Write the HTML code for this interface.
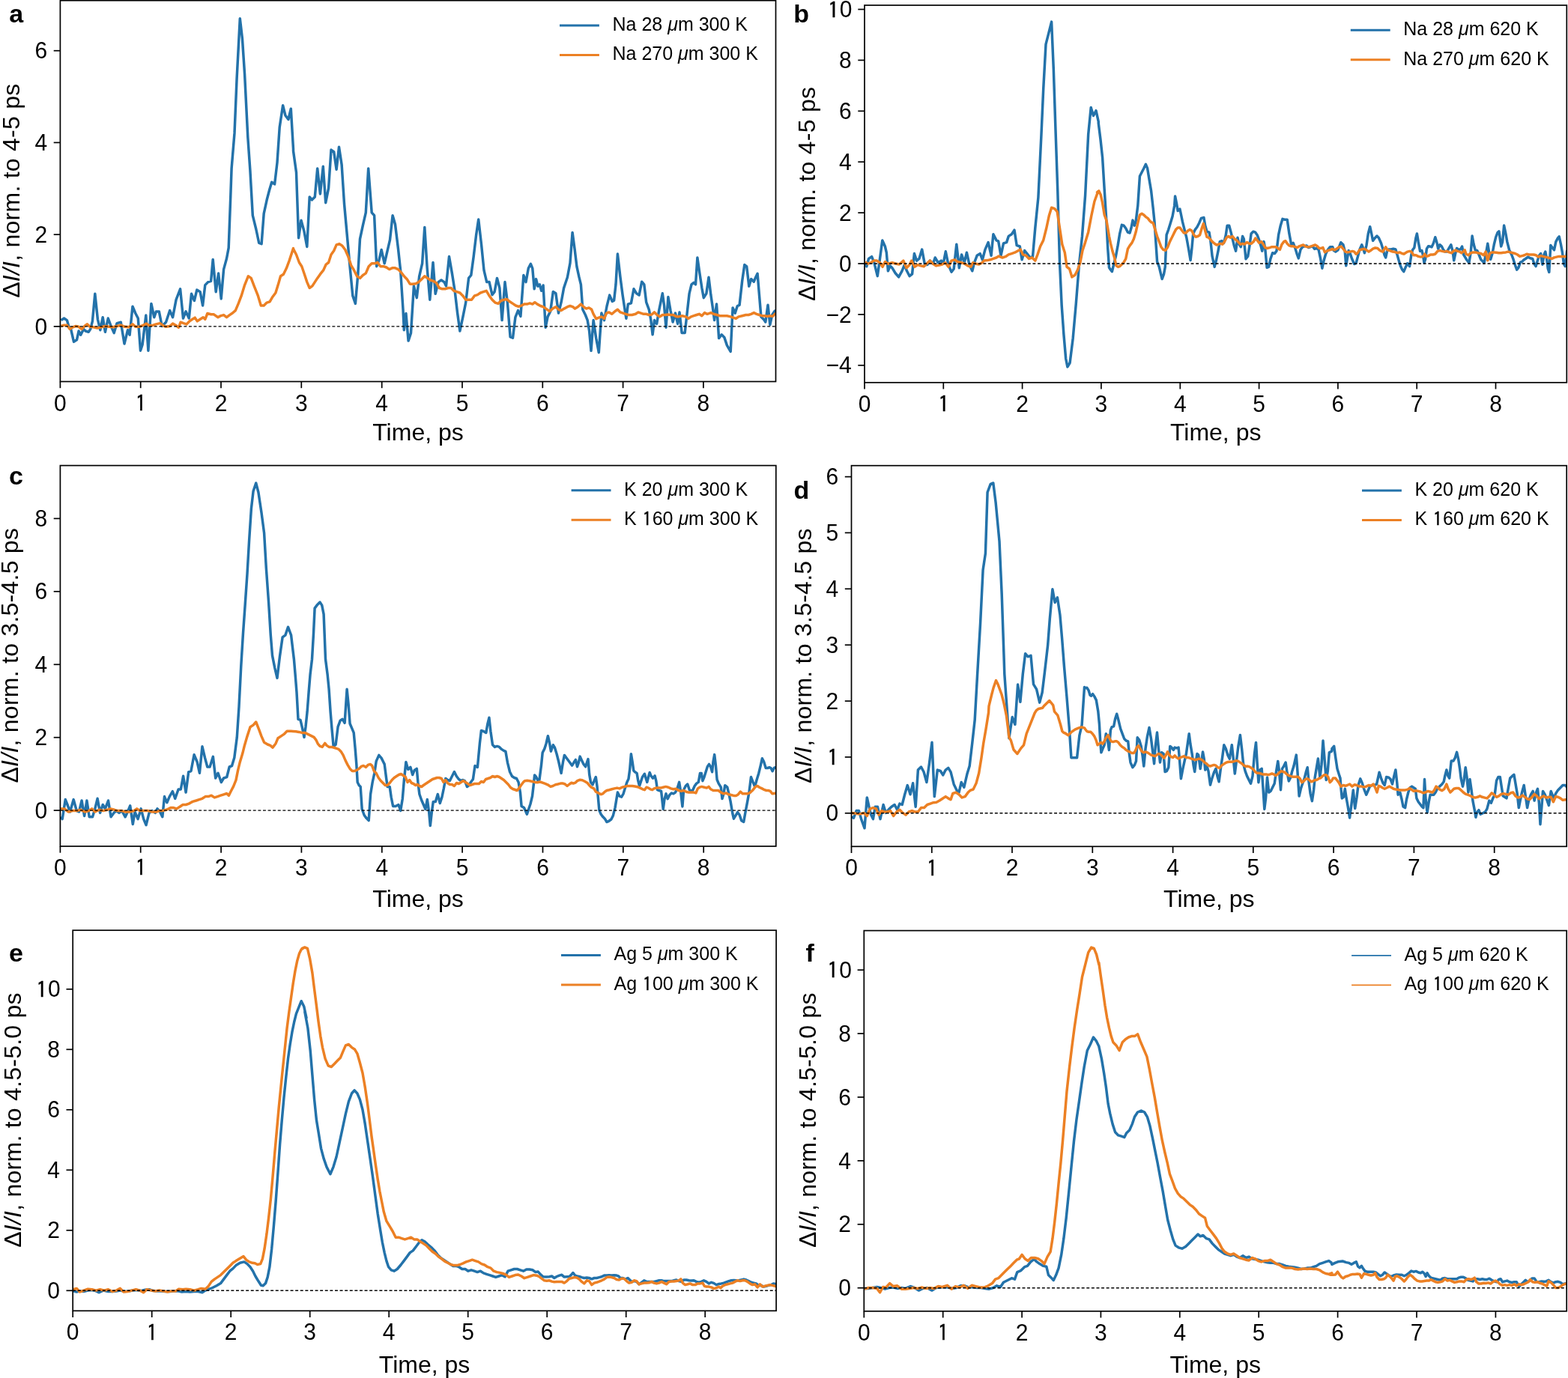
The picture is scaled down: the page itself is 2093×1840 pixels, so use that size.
<!DOCTYPE html>
<html><head><meta charset="utf-8"><title>Figure</title><style>
html,body{margin:0;padding:0;background:#fff;overflow:hidden;}
svg{display:block;font-family:'Liberation Sans', Arial, Helvetica, sans-serif;fill:#000;}
.tk{font-size:30.0px;}
.al{font-size:32px;}
.lg{font-size:25px;}
.pl{font-size:34px;font-weight:bold;}
</style></head><body>
<svg width="2093" height="1840" viewBox="0 0 2093 1840">
<defs><clipPath id="clipa"><rect x="80.4" y="0.7" width="955.1" height="508.8"/></clipPath><clipPath id="clipb"><rect x="1154.0" y="7.0" width="937.3" height="503.8"/></clipPath><clipPath id="clipc"><rect x="80.4" y="621.6" width="955.4" height="508.4"/></clipPath><clipPath id="clipd"><rect x="1136.5" y="621.7" width="954.7" height="508.6"/></clipPath><clipPath id="clipe"><rect x="97.2" y="1242.2" width="938.9" height="508.1"/></clipPath><clipPath id="clipf"><rect x="1153.3" y="1242.6" width="937.9" height="508.2"/></clipPath></defs>
<rect width="2093" height="1840" fill="#fff"/>
<path d="M81.5,427.6 L85.5,425.0 L89.4,427.6 L92.0,436.8 L94.6,439.4 L98.5,456.4 L102.5,453.8 L105.1,442.0 L107.7,447.2 L111.6,439.4 L114.2,442.0 L118.2,443.3 L120.8,439.4 L123.4,428.9 L126.8,392.3 L130.4,426.3 L133.8,440.7 L137.2,423.7 L140.4,443.3 L144.3,425.0 L148.2,435.5 L152.2,444.6 L156.1,431.6 L161.3,430.2 L166.0,459.0 L170.5,440.7 L173.1,447.2 L177.0,409.3 L180.9,418.5 L184.3,425.0 L187.5,468.2 L190.1,460.3 L194.8,421.1 L197.9,468.2 L201.9,405.4 L205.8,423.7 L208.4,415.9 L212.3,415.9 L216.2,435.5 L221.5,430.2 L226.7,414.6 L230.6,423.7 L235.1,400.2 L240.6,385.8 L244.5,425.0 L248.1,415.9 L252.3,425.0 L255.5,392.3 L259.4,401.5 L262.8,387.1 L267.2,389.7 L270.6,408.0 L273.8,380.6 L277.7,376.6 L281.6,375.3 L284.2,346.5 L288.2,389.7 L291.6,364.9 L295.2,398.9 L298.6,359.6 L302.5,345.2 L305.2,330.9 L307.8,261.5 L309.1,224.9 L313.0,177.9 L316.1,104.6 L320.3,24.8 L323.5,52.3 L326.6,99.4 L330.8,183.1 L333.9,227.5 L337.3,287.7 L341.8,306.0 L345.7,324.3 L349.1,325.6 L352.2,285.1 L356.2,266.8 L359.6,253.7 L362.7,243.2 L366.6,245.9 L370.0,217.1 L373.2,170.0 L377.6,140.7 L381.0,154.3 L384.9,159.5 L388.3,145.2 L391.5,198.8 L391.5,201.4 L395.5,230.2 L398.6,317.8 L402.0,294.2 L405.9,308.6 L409.8,329.5 L413.2,262.9 L416.4,266.8 L420.3,262.9 L423.7,224.9 L427.4,258.9 L431.3,222.3 L434.7,270.7 L438.6,251.1 L442.0,200.1 L445.7,202.7 L449.1,226.2 L452.5,196.2 L456.1,219.7 L459.5,272.0 L463.5,316.5 L467.4,359.6 L470.8,394.9 L474.4,405.4 L477.8,366.2 L480.5,319.1 L484.4,300.8 L488.3,283.8 L491.7,224.9 L496.2,283.8 L499.6,287.7 L502.7,355.7 L505.8,347.9 L509.2,333.5 L513.2,351.8 L517.1,334.8 L520.5,320.4 L524.1,287.7 L527.5,299.5 L531.5,332.2 L534.6,360.9 L538.0,413.2 L539.3,440.7 L541.9,418.5 L545.1,455.1 L548.5,444.6 L552.4,381.9 L556.3,397.6 L559.7,368.8 L563.6,351.8 L566.8,303.4 L570.2,358.3 L573.8,400.2 L578.0,350.5 L581.2,392.3 L585.1,376.6 L589.0,374.0 L592.9,376.6 L595.5,381.9 L599.5,342.6 L603.4,364.9 L607.3,389.7 L610.5,417.2 L613.9,442.0 L617.8,423.7 L621.7,404.1 L625.6,371.4 L628.8,367.5 L632.2,342.6 L635.6,313.9 L638.7,292.9 L642.6,326.9 L646.0,360.9 L649.7,376.6 L653.1,376.6 L657.0,393.6 L660.1,389.7 L663.5,371.4 L666.9,384.5 L670.1,427.6 L674.0,376.6 L677.4,404.1 L681.1,449.9 L684.5,451.2 L687.9,423.7 L691.5,414.6 L694.9,422.4 L698.9,367.5 L702.0,376.6 L705.3,358.3 L708.4,352.3 L710.8,358.3 L713.2,385.8 L715.6,372.6 L717.9,382.2 L720.3,379.8 L722.7,388.2 L725.1,381.0 L728.2,437.2 L731.1,422.9 L734.7,415.7 L738.3,389.4 L741.9,391.8 L745.5,418.1 L749.1,403.7 L752.6,384.6 L757.4,370.2 L761.0,351.1 L764.1,310.4 L767.0,331.9 L769.9,355.9 L773.0,370.2 L775.4,379.8 L777.8,413.3 L781.4,420.5 L784.2,427.6 L786.6,442.0 L789.0,468.3 L792.1,427.6 L795.7,451.6 L799.3,470.7 L802.9,418.1 L806.5,427.6 L810.1,408.5 L813.7,394.1 L817.3,402.5 L819.6,401.3 L822.0,379.8 L824.4,339.1 L828.0,370.2 L831.1,394.1 L834.0,413.3 L835.9,425.3 L838.3,406.1 L842.4,404.9 L846.0,385.8 L849.6,391.8 L853.1,394.1 L856.7,376.2 L859.8,379.8 L862.7,403.7 L866.3,413.3 L868.7,426.4 L871.1,446.8 L873.5,427.6 L876.6,432.4 L879.9,413.3 L884.3,391.8 L886.6,408.5 L889.0,437.2 L891.9,396.5 L895.0,414.5 L898.1,430.0 L901.5,418.1 L904.6,432.4 L907.0,416.9 L910.1,444.4 L914.2,444.4 L917.8,412.1 L920.1,391.8 L923.0,379.8 L926.1,377.4 L928.5,379.8 L930.9,343.9 L934.0,365.4 L936.9,384.6 L939.3,397.7 L942.9,391.8 L946.0,370.2 L948.9,394.1 L951.7,413.3 L953.6,427.6 L956.5,406.1 L959.6,451.6 L963.2,446.8 L966.8,450.4 L970.4,461.1 L975.2,469.5 L978.1,410.9 L981.2,418.1 L984.3,408.5 L987.1,407.3 L990.7,375.0 L993.8,353.5 L996.7,355.9 L999.8,382.2 L1002.7,372.6 L1006.3,376.2 L1008.7,370.2 L1011.1,365.4 L1013.5,394.1 L1015.9,422.9 L1019.4,426.4 L1021.8,430.0 L1025.0,407.3 L1027.8,433.6 L1030.7,420.5 L1033.8,415.7 L1035.5,414.5" fill="none" stroke="#2372aa" stroke-width="3.5" stroke-linejoin="round" clip-path="url(#clipa)"/>
<path d="M81.5,435.5 L85.5,434.2 L89.4,434.2 L93.3,439.4 L97.2,436.8 L101.2,435.5 L105.1,436.3 L109.0,439.4 L112.9,435.5 L116.3,432.9 L120.0,436.3 L124.7,436.8 L129.9,438.1 L135.2,436.8 L140.4,435.5 L145.6,436.3 L150.8,436.8 L156.1,435.5 L161.3,434.2 L166.5,436.3 L171.8,436.8 L177.0,432.9 L180.9,436.3 L186.2,436.3 L191.4,434.2 L195.3,432.1 L199.2,434.7 L204.5,434.2 L208.4,432.9 L213.6,431.6 L217.5,434.7 L221.5,436.3 L226.7,435.5 L230.6,432.1 L234.5,434.2 L238.5,437.3 L241.1,430.2 L245.0,431.6 L248.9,432.9 L252.9,428.9 L256.8,426.3 L260.2,424.2 L263.3,428.9 L267.2,426.3 L271.2,423.7 L273.8,426.3 L276.9,418.5 L281.6,419.8 L285.5,419.8 L290.8,423.7 L294.7,421.6 L298.6,420.6 L302.5,423.7 L306.5,420.6 L310.4,418.0 L314.3,414.6 L318.2,405.4 L322.2,394.9 L326.6,380.6 L331.3,368.8 L335.2,371.4 L339.2,381.9 L344.4,394.9 L348.3,408.0 L352.2,408.0 L356.2,404.1 L360.1,402.8 L364.0,396.2 L367.9,391.0 L371.9,377.9 L374.5,368.8 L378.4,366.2 L382.3,358.3 L386.2,347.9 L391.5,331.6 L391.5,332.2 L395.5,340.0 L399.4,350.5 L402.8,355.7 L406.4,366.2 L409.8,376.6 L413.2,384.5 L416.9,381.9 L420.3,376.6 L423.7,371.4 L427.4,366.2 L431.6,360.9 L435.2,353.1 L438.6,350.5 L442.0,340.0 L445.7,334.8 L449.1,326.9 L453.0,325.6 L456.9,328.2 L460.8,333.5 L464.8,342.6 L468.7,354.4 L472.6,360.9 L476.5,368.8 L480.5,371.4 L484.4,367.5 L488.3,364.9 L492.2,355.7 L496.2,351.8 L500.1,351.8 L504.0,350.5 L507.9,355.7 L511.9,355.7 L515.8,357.0 L519.7,359.6 L523.6,357.8 L527.5,357.8 L531.5,359.6 L535.4,363.6 L539.3,368.8 L543.2,372.7 L547.2,379.2 L551.1,379.2 L555.0,378.7 L558.9,376.6 L562.9,372.7 L566.8,368.8 L570.7,371.4 L574.6,374.0 L578.5,375.3 L582.5,377.9 L586.4,384.5 L590.3,385.8 L594.2,385.8 L598.2,384.5 L602.1,384.5 L606.0,388.4 L609.9,389.7 L613.9,391.0 L617.8,394.9 L621.7,400.2 L625.6,400.2 L629.5,400.2 L633.5,394.9 L637.4,393.6 L641.3,391.0 L645.2,389.7 L649.2,388.4 L653.1,394.9 L657.0,400.2 L660.9,404.1 L664.9,405.4 L668.8,401.5 L672.7,400.2 L676.6,399.6 L680.5,402.8 L684.5,405.4 L688.4,408.0 L692.3,409.3 L696.2,408.0 L700.2,405.9 L703.6,406.1 L707.2,404.9 L710.8,406.1 L713.9,403.7 L717.2,406.1 L721.5,408.5 L725.1,409.7 L728.7,412.1 L733.5,415.7 L737.8,412.1 L741.9,409.7 L745.5,413.3 L749.1,414.5 L753.1,412.1 L757.4,409.7 L761.0,408.5 L764.6,409.7 L767.5,412.1 L771.3,409.7 L775.4,406.1 L779.0,409.7 L782.6,412.1 L786.1,410.9 L789.7,413.3 L792.1,419.3 L795.7,425.7 L799.3,424.1 L802.9,422.9 L806.5,425.3 L809.6,418.1 L812.9,416.9 L816.8,419.3 L820.8,415.7 L824.4,413.3 L828.0,416.9 L831.6,418.1 L835.2,419.3 L838.8,420.5 L843.6,420.5 L848.4,419.3 L851.9,416.9 L855.5,418.1 L859.1,419.3 L862.7,419.3 L866.3,420.5 L869.9,420.0 L873.5,416.9 L877.1,420.5 L880.7,422.9 L884.3,420.5 L887.8,420.5 L891.4,420.0 L895.0,420.5 L898.6,420.5 L902.2,422.4 L905.8,422.9 L910.6,421.7 L915.4,422.9 L918.9,425.3 L922.5,422.9 L926.1,421.7 L929.7,420.5 L933.3,419.3 L936.9,421.7 L940.5,417.6 L944.1,419.3 L948.9,417.6 L952.4,419.3 L957.2,420.5 L960.8,421.7 L965.6,421.7 L970.4,421.7 L975.2,422.9 L978.8,424.1 L982.4,425.3 L985.9,422.9 L990.7,421.7 L995.5,420.5 L999.1,420.5 L1002.7,419.3 L1006.3,417.6 L1009.9,419.3 L1013.5,420.5 L1017.1,421.7 L1020.6,421.7 L1024.2,422.4 L1027.8,421.7 L1031.4,422.4 L1035.5,418.1" fill="none" stroke="#ec8024" stroke-width="3.5" stroke-linejoin="round" clip-path="url(#clipa)"/>
<line x1="80.4" x2="1035.5" y1="435.9" y2="435.9" stroke="#000" stroke-width="1.4" stroke-dasharray="3.9 2.7"/>
<rect x="80.4" y="0.7" width="955.1" height="508.8" fill="none" stroke="#000" stroke-width="1.7"/>
<line x1="80.4" x2="80.4" y1="509.5" y2="518.2" stroke="#000" stroke-width="1.7"/>
<text transform="translate(80.4,548.5) scale(1,1.035)" class="tk" text-anchor="middle">0</text>
<line x1="187.7" x2="187.7" y1="509.5" y2="518.2" stroke="#000" stroke-width="1.7"/>
<text transform="translate(187.7,548.5) scale(1,1.035)" class="tk" text-anchor="middle"><tspan font-family="IPAGothic, 'Liberation Sans', sans-serif" stroke="#000" stroke-width="0.35" dx="0.84" dy="1.38">1</tspan><tspan dx="0.84" dy="-1.38">​</tspan></text>
<line x1="295.0" x2="295.0" y1="509.5" y2="518.2" stroke="#000" stroke-width="1.7"/>
<text transform="translate(295.0,548.5) scale(1,1.035)" class="tk" text-anchor="middle">2</text>
<line x1="402.3" x2="402.3" y1="509.5" y2="518.2" stroke="#000" stroke-width="1.7"/>
<text transform="translate(402.3,548.5) scale(1,1.035)" class="tk" text-anchor="middle">3</text>
<line x1="509.7" x2="509.7" y1="509.5" y2="518.2" stroke="#000" stroke-width="1.7"/>
<text transform="translate(509.7,548.5) scale(1,1.035)" class="tk" text-anchor="middle">4</text>
<line x1="617.0" x2="617.0" y1="509.5" y2="518.2" stroke="#000" stroke-width="1.7"/>
<text transform="translate(617.0,548.5) scale(1,1.035)" class="tk" text-anchor="middle">5</text>
<line x1="724.3" x2="724.3" y1="509.5" y2="518.2" stroke="#000" stroke-width="1.7"/>
<text transform="translate(724.3,548.5) scale(1,1.035)" class="tk" text-anchor="middle">6</text>
<line x1="831.6" x2="831.6" y1="509.5" y2="518.2" stroke="#000" stroke-width="1.7"/>
<text transform="translate(831.6,548.5) scale(1,1.035)" class="tk" text-anchor="middle">7</text>
<line x1="938.9" x2="938.9" y1="509.5" y2="518.2" stroke="#000" stroke-width="1.7"/>
<text transform="translate(938.9,548.5) scale(1,1.035)" class="tk" text-anchor="middle">8</text>
<line x1="71.7" x2="80.4" y1="435.9" y2="435.9" stroke="#000" stroke-width="1.7"/>
<text transform="translate(63.1,446.5) scale(1,1.035)" class="tk" text-anchor="end">0</text>
<line x1="71.7" x2="80.4" y1="313.2" y2="313.2" stroke="#000" stroke-width="1.7"/>
<text transform="translate(63.1,323.8) scale(1,1.035)" class="tk" text-anchor="end">2</text>
<line x1="71.7" x2="80.4" y1="190.4" y2="190.4" stroke="#000" stroke-width="1.7"/>
<text transform="translate(63.1,201.0) scale(1,1.035)" class="tk" text-anchor="end">4</text>
<line x1="71.7" x2="80.4" y1="67.7" y2="67.7" stroke="#000" stroke-width="1.7"/>
<text transform="translate(63.1,78.3) scale(1,1.035)" class="tk" text-anchor="end">6</text>
<text x="558.0" y="587.6" class="al" text-anchor="middle">Time, ps</text>
<text transform="translate(25.8,397.8) rotate(-90)" class="al" letter-spacing="0.25">Δ<tspan font-style="italic">I/I</tspan>, norm. to 4-5 ps</text>
<line x1="747.0" x2="799.9" y1="33.9" y2="33.9" stroke="#2372aa" stroke-width="3.0"/>
<text x="817.5" y="40.9" class="lg">Na 28 <tspan font-style="italic">μ</tspan>m 300 K</text>
<line x1="747.0" x2="799.9" y1="73.4" y2="73.4" stroke="#ec8024" stroke-width="3.0"/>
<text x="817.5" y="80.4" class="lg">Na 270 <tspan font-style="italic">μ</tspan>m 300 K</text>
<text x="12.2" y="30.0" class="pl">a</text>
<path d="M1154.9,350.8 L1156.8,355.8 L1159.5,345.4 L1163.6,342.7 L1166.9,350.8 L1171.3,368.6 L1174.5,345.4 L1177.8,320.9 L1181.4,329.0 L1183.3,337.2 L1185.4,361.8 L1188.2,354.9 L1190.9,357.7 L1195.0,364.5 L1199.6,369.9 L1204.0,361.8 L1207.3,353.6 L1210.5,361.8 L1214.1,368.6 L1217.6,365.8 L1220.4,338.6 L1223.6,348.1 L1226.9,345.4 L1230.7,333.1 L1234.5,353.6 L1237.8,353.6 L1241.3,348.1 L1245.4,352.2 L1248.2,344.0 L1252.3,350.8 L1256.3,348.1 L1259.1,352.2 L1262.3,335.8 L1265.9,353.6 L1270.0,363.1 L1273.2,359.0 L1276.8,326.3 L1280.3,357.7 L1283.6,339.9 L1287.2,350.8 L1290.4,337.2 L1294.0,353.6 L1297.8,361.8 L1300.5,350.8 L1304.1,341.3 L1308.2,338.6 L1311.4,346.8 L1315.0,333.1 L1319.1,323.6 L1323.1,341.3 L1325.9,312.7 L1330.0,320.9 L1332.7,322.2 L1336.0,341.3 L1339.5,324.9 L1343.6,323.6 L1346.3,315.4 L1350.4,312.7 L1354.0,307.2 L1357.2,327.7 L1361.3,329.0 L1364.1,346.8 L1367.6,334.5 L1370.9,338.6 L1375.0,344.0 L1378.5,342.7 L1381.8,304.5 L1385.9,263.6 L1390.0,179.1 L1392.7,119.1 L1396.0,59.1 L1399.5,45.4 L1403.6,29.1 L1406.3,91.8 L1409.0,173.6 L1411.8,255.4 L1414.5,350.8 L1417.2,408.1 L1419.9,446.3 L1422.7,479.0 L1424.9,489.9 L1428.1,484.5 L1432.2,451.7 L1436.3,405.4 L1440.4,353.6 L1444.5,315.4 L1448.6,260.9 L1452.7,179.1 L1456.2,143.6 L1459.5,154.5 L1463.0,147.7 L1466.3,162.7 L1466.2,164.1 L1468.9,185.5 L1471.6,210.4 L1474.2,253.1 L1476.9,295.9 L1478.7,331.5 L1480.5,357.3 L1482.3,360.0 L1484.4,362.7 L1486.7,352.9 L1489.4,342.2 L1492.1,327.9 L1494.7,311.9 L1497.4,300.3 L1500.1,301.2 L1502.7,304.8 L1505.4,310.1 L1508.1,311.0 L1509.9,304.8 L1512.0,294.1 L1514.3,301.2 L1516.1,295.9 L1518.8,274.5 L1521.4,235.3 L1524.1,230.0 L1526.8,224.7 L1529.4,219.3 L1531.6,224.7 L1533.9,238.9 L1536.6,254.9 L1539.2,278.1 L1541.0,295.9 L1542.8,322.6 L1544.6,349.3 L1547.3,356.4 L1549.4,365.3 L1551.2,372.5 L1553.5,366.2 L1555.3,356.4 L1557.1,313.7 L1559.7,306.6 L1562.4,297.7 L1565.1,288.8 L1567.7,274.5 L1568.6,262.0 L1570.4,271.0 L1572.2,281.6 L1574.9,279.0 L1576.6,287.0 L1578.4,295.9 L1581.1,306.6 L1583.8,317.3 L1586.4,331.5 L1589.1,347.5 L1590.9,331.5 L1592.7,311.9 L1595.3,306.6 L1598.0,303.0 L1600.7,297.7 L1603.4,291.4 L1606.9,290.5 L1608.7,301.2 L1611.0,309.2 L1614.0,310.1 L1615.8,320.8 L1618.1,342.2 L1621.2,356.4 L1623.5,347.5 L1626.0,335.1 L1628.3,322.6 L1631.0,321.7 L1633.6,324.4 L1636.3,313.7 L1638.1,301.2 L1640.7,301.2 L1643.1,310.1 L1645.2,319.0 L1647.3,327.9 L1649.6,335.1 L1652.0,317.3 L1654.1,326.2 L1656.2,329.7 L1658.6,315.5 L1660.3,319.0 L1663.0,345.7 L1665.7,342.2 L1668.0,327.9 L1670.1,311.9 L1672.8,309.2 L1675.5,310.1 L1678.1,313.7 L1680.5,319.9 L1682.9,327.9 L1684.7,335.1 L1687.0,322.6 L1688.8,332.4 L1691.1,357.3 L1693.6,356.4 L1695.9,345.7 L1698.6,337.7 L1701.3,338.6 L1704.0,335.1 L1706.6,313.7 L1709.3,301.2 L1712.0,292.3 L1714.6,293.2 L1718.2,293.2 L1720.9,311.9 L1723.6,326.2 L1726.2,324.4 L1728.9,331.5 L1731.0,338.6 L1733.3,344.9 L1736.0,333.3 L1738.7,329.7 L1741.4,328.8 L1744.0,327.9 L1746.7,330.6 L1749.4,329.7 L1752.0,328.8 L1754.7,332.4 L1757.4,331.5 L1760.1,333.3 L1762.7,345.7 L1764.9,358.2 L1767.2,347.5 L1769.8,338.6 L1772.5,333.3 L1775.5,329.7 L1778.8,329.7 L1780.4,334.6 L1782.8,336.1 L1785.9,333.8 L1789.8,323.7 L1792.9,326.8 L1795.2,335.4 L1796.8,354.8 L1798.3,345.5 L1800.2,334.6 L1802.2,338.5 L1804.6,345.5 L1807.7,352.5 L1810.0,351.7 L1812.3,343.1 L1814.7,333.8 L1817.8,326.8 L1819.3,330.7 L1821.4,337.7 L1824.0,327.6 L1826.3,312.0 L1828.7,302.7 L1830.7,312.0 L1832.6,321.4 L1834.9,318.2 L1838.0,315.1 L1840.3,317.5 L1843.5,324.5 L1846.3,333.8 L1848.1,340.8 L1849.7,343.9 L1851.5,335.4 L1853.6,333.0 L1856.7,333.0 L1859.8,332.2 L1862.9,333.0 L1865.2,340.8 L1867.6,349.4 L1869.6,355.6 L1871.8,360.2 L1873.8,362.6 L1876.1,357.1 L1878.5,351.7 L1881.6,355.6 L1883.9,340.0 L1885.5,333.8 L1887.8,330.7 L1889.8,318.2 L1891.4,312.0 L1893.2,322.9 L1895.6,335.4 L1897.9,334.6 L1899.5,340.8 L1901.0,350.9 L1902.6,346.2 L1904.4,332.2 L1906.5,328.8 L1908.8,329.1 L1911.1,329.9 L1913.5,324.5 L1915.8,316.7 L1918.1,324.5 L1919.7,332.2 L1922.0,326.8 L1924.4,329.1 L1926.7,333.8 L1929.0,336.1 L1931.4,336.1 L1933.7,332.2 L1936.8,326.8 L1939.1,335.4 L1940.7,347.8 L1942.7,338.5 L1944.6,331.5 L1947.7,333.8 L1950.0,332.2 L1951.6,329.1 L1953.6,340.0 L1955.5,343.1 L1957.8,347.0 L1960.9,350.9 L1963.2,336.9 L1965.1,315.1 L1967.1,326.0 L1969.2,333.8 L1971.8,334.6 L1974.1,340.0 L1976.5,346.2 L1978.8,348.6 L1981.1,350.9 L1983.5,338.5 L1985.8,325.2 L1988.1,340.0 L1989.7,346.2 L1992.0,338.5 L1994.4,326.0 L1996.7,316.7 L1999.0,310.5 L2000.9,308.9 L2003.7,329.1 L2005.6,322.9 L2007.6,301.1 L2009.9,312.0 L2011.8,322.9 L2014.6,333.8 L2017.7,340.0 L2020.0,346.2 L2022.4,354.0 L2024.7,360.2 L2027.0,357.1 L2029.4,350.1 L2031.7,349.4 L2034.0,347.0 L2036.4,345.5 L2039.5,343.1 L2042.6,344.7 L2045.7,345.5 L2048.0,352.5 L2050.1,355.6 L2051.9,349.4 L2054.3,341.6 L2056.6,338.5 L2058.9,353.2 L2061.0,340.0 L2062.8,336.1 L2064.7,346.2 L2066.2,358.7 L2067.8,363.4 L2069.8,327.6 L2072.2,330.7 L2074.5,333.8 L2076.8,322.9 L2079.2,318.2 L2081.2,315.9 L2083.4,326.0 L2085.4,336.9 L2087.4,352.5 L2089.3,355.6 L2091.6,335.4 L2093.9,333.8" fill="none" stroke="#2372aa" stroke-width="3.5" stroke-linejoin="round" clip-path="url(#clipb)"/>
<path d="M1154.9,349.5 L1158.2,352.2 L1162.3,350.8 L1166.4,348.1 L1170.5,348.1 L1174.5,350.8 L1178.1,356.3 L1181.4,349.5 L1185.4,352.2 L1190.9,350.8 L1196.4,352.2 L1200.4,353.0 L1205.9,348.1 L1210.0,357.7 L1214.1,353.6 L1216.8,348.1 L1220.9,356.3 L1225.0,353.6 L1229.1,354.9 L1233.2,355.8 L1236.7,352.2 L1241.3,348.1 L1245.4,352.2 L1249.5,354.9 L1253.6,354.1 L1257.7,353.0 L1261.8,350.8 L1265.9,356.3 L1270.0,348.1 L1274.1,346.8 L1278.2,349.5 L1283.6,350.8 L1287.7,352.2 L1291.8,354.9 L1295.9,356.3 L1298.6,350.8 L1302.7,352.2 L1306.8,353.0 L1310.9,350.8 L1313.6,348.1 L1317.7,347.6 L1321.8,346.8 L1325.9,345.4 L1330.0,344.0 L1333.2,342.1 L1338.1,344.0 L1342.2,342.7 L1346.3,339.9 L1350.4,338.6 L1354.5,337.2 L1358.6,335.0 L1362.1,333.1 L1365.4,339.9 L1369.5,341.3 L1373.6,345.4 L1377.7,344.0 L1381.8,348.1 L1385.0,339.9 L1388.6,329.0 L1392.7,320.9 L1396.8,304.5 L1400.3,288.1 L1403.6,277.2 L1407.7,278.6 L1411.2,282.7 L1414.5,304.5 L1417.8,326.3 L1421.3,337.2 L1424.0,356.3 L1427.6,359.0 L1430.9,369.9 L1434.9,367.2 L1438.5,360.4 L1441.8,350.8 L1445.0,334.5 L1448.6,323.6 L1452.7,309.9 L1456.8,288.1 L1460.9,269.0 L1465.8,255.4 L1464.5,256.7 L1466.8,254.9 L1469.3,260.3 L1471.6,271.0 L1474.2,287.0 L1476.9,294.1 L1478.7,304.8 L1480.5,315.5 L1482.3,324.4 L1484.9,335.1 L1487.6,344.0 L1489.9,354.6 L1492.4,356.4 L1494.7,355.5 L1497.4,352.9 L1500.1,350.2 L1502.7,345.7 L1505.4,332.4 L1508.1,327.9 L1510.8,324.4 L1513.4,319.0 L1516.1,310.1 L1518.8,297.7 L1521.4,287.0 L1524.1,285.2 L1526.8,287.0 L1529.4,289.6 L1532.1,291.4 L1534.8,295.0 L1536.9,296.8 L1539.2,297.7 L1541.9,306.6 L1544.6,315.5 L1547.3,322.6 L1549.9,329.7 L1552.6,333.3 L1555.8,334.2 L1558.8,329.7 L1561.5,322.6 L1564.2,317.3 L1566.8,311.9 L1569.5,306.6 L1572.2,303.9 L1574.9,303.9 L1577.5,307.5 L1580.2,311.0 L1582.9,311.0 L1585.5,308.3 L1588.2,306.6 L1590.9,308.3 L1593.6,313.7 L1596.2,316.4 L1598.9,315.5 L1601.6,313.7 L1604.2,304.8 L1606.4,298.6 L1608.7,308.3 L1611.0,316.4 L1613.5,317.3 L1615.8,319.9 L1618.1,322.6 L1621.2,325.3 L1623.8,327.0 L1626.5,326.2 L1629.2,325.3 L1631.8,326.2 L1634.5,322.6 L1637.2,317.3 L1639.9,315.5 L1642.5,317.3 L1645.2,315.5 L1647.9,319.0 L1650.5,320.8 L1653.2,323.5 L1655.9,326.2 L1658.6,325.3 L1661.2,326.2 L1664.4,323.5 L1667.5,325.3 L1670.1,325.3 L1673.3,322.6 L1675.8,318.1 L1678.1,320.8 L1680.8,324.4 L1683.5,322.6 L1685.8,325.3 L1688.8,330.6 L1691.5,331.5 L1695.1,330.6 L1697.7,329.7 L1700.4,329.7 L1703.1,329.7 L1705.7,331.5 L1708.4,333.3 L1711.1,326.2 L1713.8,322.6 L1715.9,321.7 L1718.2,325.3 L1720.9,327.9 L1723.6,328.8 L1726.2,328.8 L1728.9,329.7 L1731.6,330.6 L1734.2,328.8 L1736.9,327.9 L1739.6,327.0 L1742.2,328.8 L1744.9,329.7 L1747.6,329.7 L1750.3,328.8 L1752.9,327.9 L1755.6,327.0 L1758.3,328.8 L1760.9,331.5 L1763.6,331.5 L1765.9,330.6 L1768.4,336.8 L1771.3,335.1 L1773.8,334.2 L1776.6,333.3 L1778.8,332.4 L1781.2,333.8 L1784.3,332.2 L1787.4,329.9 L1790.2,329.1 L1792.9,332.2 L1796.0,336.1 L1799.1,336.9 L1802.2,336.1 L1805.3,335.4 L1807.7,336.1 L1810.0,339.2 L1812.3,337.7 L1814.7,333.8 L1817.8,333.0 L1820.9,332.2 L1824.0,333.8 L1827.1,336.1 L1829.5,334.6 L1832.6,332.2 L1835.7,331.0 L1838.8,331.5 L1841.1,333.8 L1843.5,335.4 L1845.8,336.1 L1848.1,332.2 L1849.7,329.9 L1852.0,333.8 L1855.1,334.6 L1859.0,336.1 L1862.1,336.6 L1865.2,337.7 L1868.3,336.9 L1871.5,338.5 L1873.8,339.2 L1876.1,337.7 L1878.9,336.1 L1881.6,335.4 L1883.9,336.1 L1887.0,340.8 L1890.1,340.8 L1893.2,342.4 L1896.4,343.1 L1899.5,342.4 L1901.8,339.2 L1904.1,342.4 L1906.5,341.6 L1909.6,340.0 L1912.7,340.0 L1915.8,339.2 L1918.9,335.4 L1922.0,334.6 L1925.1,335.4 L1928.2,336.1 L1931.4,335.4 L1934.5,336.9 L1937.6,337.7 L1939.9,335.4 L1943.0,334.1 L1945.4,335.4 L1948.5,336.1 L1950.8,337.7 L1953.1,336.1 L1955.2,333.8 L1957.0,339.2 L1960.1,340.8 L1963.2,337.7 L1966.4,336.9 L1969.5,336.9 L1972.6,337.7 L1975.7,338.2 L1978.0,339.2 L1980.4,340.8 L1983.2,336.1 L1985.8,347.8 L1988.5,338.5 L1991.3,336.9 L1994.4,336.9 L1997.5,337.2 L2000.6,337.7 L2003.7,337.7 L2006.8,337.2 L2009.9,336.9 L2013.0,336.1 L2016.1,336.9 L2019.3,337.7 L2022.4,338.5 L2025.5,340.0 L2028.6,342.4 L2031.7,341.6 L2034.8,340.8 L2037.9,339.2 L2041.0,340.0 L2044.1,340.0 L2047.3,340.0 L2050.4,340.8 L2053.5,343.1 L2056.6,341.6 L2059.7,342.4 L2062.8,343.1 L2065.9,343.9 L2069.0,344.7 L2071.4,345.5 L2074.5,343.9 L2077.6,343.1 L2080.7,342.4 L2083.8,342.4 L2086.9,342.4 L2090.0,342.4 L2093.9,342.4" fill="none" stroke="#ec8024" stroke-width="3.5" stroke-linejoin="round" clip-path="url(#clipb)"/>
<line x1="1154.0" x2="2091.3" y1="352.0" y2="352.0" stroke="#000" stroke-width="1.4" stroke-dasharray="3.9 2.7"/>
<rect x="1154.0" y="7.0" width="937.3" height="503.8" fill="none" stroke="#000" stroke-width="1.7"/>
<line x1="1154.0" x2="1154.0" y1="510.8" y2="519.5" stroke="#000" stroke-width="1.7"/>
<text transform="translate(1154.0,549.8) scale(1,1.035)" class="tk" text-anchor="middle">0</text>
<line x1="1259.3" x2="1259.3" y1="510.8" y2="519.5" stroke="#000" stroke-width="1.7"/>
<text transform="translate(1259.3,549.8) scale(1,1.035)" class="tk" text-anchor="middle"><tspan font-family="IPAGothic, 'Liberation Sans', sans-serif" stroke="#000" stroke-width="0.35" dx="0.84" dy="1.38">1</tspan><tspan dx="0.84" dy="-1.38">​</tspan></text>
<line x1="1364.6" x2="1364.6" y1="510.8" y2="519.5" stroke="#000" stroke-width="1.7"/>
<text transform="translate(1364.6,549.8) scale(1,1.035)" class="tk" text-anchor="middle">2</text>
<line x1="1469.9" x2="1469.9" y1="510.8" y2="519.5" stroke="#000" stroke-width="1.7"/>
<text transform="translate(1469.9,549.8) scale(1,1.035)" class="tk" text-anchor="middle">3</text>
<line x1="1575.3" x2="1575.3" y1="510.8" y2="519.5" stroke="#000" stroke-width="1.7"/>
<text transform="translate(1575.3,549.8) scale(1,1.035)" class="tk" text-anchor="middle">4</text>
<line x1="1680.6" x2="1680.6" y1="510.8" y2="519.5" stroke="#000" stroke-width="1.7"/>
<text transform="translate(1680.6,549.8) scale(1,1.035)" class="tk" text-anchor="middle">5</text>
<line x1="1785.9" x2="1785.9" y1="510.8" y2="519.5" stroke="#000" stroke-width="1.7"/>
<text transform="translate(1785.9,549.8) scale(1,1.035)" class="tk" text-anchor="middle">6</text>
<line x1="1891.2" x2="1891.2" y1="510.8" y2="519.5" stroke="#000" stroke-width="1.7"/>
<text transform="translate(1891.2,549.8) scale(1,1.035)" class="tk" text-anchor="middle">7</text>
<line x1="1996.5" x2="1996.5" y1="510.8" y2="519.5" stroke="#000" stroke-width="1.7"/>
<text transform="translate(1996.5,549.8) scale(1,1.035)" class="tk" text-anchor="middle">8</text>
<line x1="1145.3" x2="1154.0" y1="487.8" y2="487.8" stroke="#000" stroke-width="1.7"/>
<text transform="translate(1136.7,498.4) scale(1,1.035)" class="tk" text-anchor="end">−4</text>
<line x1="1145.3" x2="1154.0" y1="419.9" y2="419.9" stroke="#000" stroke-width="1.7"/>
<text transform="translate(1136.7,430.5) scale(1,1.035)" class="tk" text-anchor="end">−2</text>
<line x1="1145.3" x2="1154.0" y1="352.0" y2="352.0" stroke="#000" stroke-width="1.7"/>
<text transform="translate(1136.7,362.6) scale(1,1.035)" class="tk" text-anchor="end">0</text>
<line x1="1145.3" x2="1154.0" y1="284.1" y2="284.1" stroke="#000" stroke-width="1.7"/>
<text transform="translate(1136.7,294.7) scale(1,1.035)" class="tk" text-anchor="end">2</text>
<line x1="1145.3" x2="1154.0" y1="216.2" y2="216.2" stroke="#000" stroke-width="1.7"/>
<text transform="translate(1136.7,226.8) scale(1,1.035)" class="tk" text-anchor="end">4</text>
<line x1="1145.3" x2="1154.0" y1="148.3" y2="148.3" stroke="#000" stroke-width="1.7"/>
<text transform="translate(1136.7,158.9) scale(1,1.035)" class="tk" text-anchor="end">6</text>
<line x1="1145.3" x2="1154.0" y1="80.4" y2="80.4" stroke="#000" stroke-width="1.7"/>
<text transform="translate(1136.7,91.0) scale(1,1.035)" class="tk" text-anchor="end">8</text>
<line x1="1145.3" x2="1154.0" y1="12.5" y2="12.5" stroke="#000" stroke-width="1.7"/>
<text transform="translate(1136.7,23.1) scale(1,1.035)" class="tk" text-anchor="end"><tspan font-family="IPAGothic, 'Liberation Sans', sans-serif" stroke="#000" stroke-width="0.35" dx="0.84" dy="1.38">1</tspan><tspan dx="0.84" dy="-1.38">0</tspan></text>
<text x="1622.7" y="587.7" class="al" text-anchor="middle">Time, ps</text>
<text transform="translate(1088.1,402.1) rotate(-90)" class="al" letter-spacing="0.25">Δ<tspan font-style="italic">I/I</tspan>, norm. to 4-5 ps</text>
<line x1="1802.8" x2="1855.7" y1="40.2" y2="40.2" stroke="#2372aa" stroke-width="3.0"/>
<text x="1873.3" y="47.2" class="lg">Na 28 <tspan font-style="italic">μ</tspan>m 620 K</text>
<line x1="1802.8" x2="1855.7" y1="79.7" y2="79.7" stroke="#ec8024" stroke-width="3.0"/>
<text x="1873.3" y="86.7" class="lg">Na 270 <tspan font-style="italic">μ</tspan>m 620 K</text>
<text x="1059.3" y="30.0" class="pl">b</text>
<path d="M81.0,1090.8 L83.2,1093.6 L87.3,1067.6 L90.0,1074.5 L93.5,1084.0 L98.2,1067.6 L102.3,1082.6 L105.5,1084.0 L109.1,1069.0 L112.6,1089.5 L115.9,1069.0 L119.2,1090.8 L123.5,1090.8 L126.8,1079.9 L130.1,1066.3 L133.6,1085.4 L137.2,1074.5 L140.4,1079.9 L144.5,1069.0 L148.1,1090.8 L151.9,1085.4 L155.4,1082.6 L159.0,1085.4 L162.8,1082.6 L167.2,1090.8 L170.4,1084.0 L173.7,1075.8 L177.3,1100.4 L180.0,1084.0 L184.1,1093.6 L188.2,1079.9 L191.7,1093.6 L195.0,1101.7 L199.1,1085.4 L203.2,1082.6 L207.2,1085.4 L210.0,1079.9 L213.5,1084.0 L216.8,1090.8 L219.5,1063.6 L222.8,1071.7 L226.3,1063.6 L230.4,1056.7 L233.7,1066.3 L238.1,1054.0 L241.3,1054.0 L244.6,1036.3 L248.1,1058.1 L251.7,1030.8 L255.0,1029.5 L259.1,1007.7 L263.1,1017.2 L266.4,1032.2 L270.0,996.8 L273.5,1011.7 L276.8,1024.0 L280.1,1024.0 L284.4,1010.4 L287.7,1039.0 L291.0,1032.2 L295.3,1044.5 L298.6,1039.0 L302.7,1037.7 L306.2,1024.0 L309.5,1022.7 L312.8,1011.7 L316.3,984.5 L319.0,943.6 L321.8,889.0 L324.5,845.4 L327.2,807.2 L330.0,766.3 L332.7,720.0 L335.4,679.1 L338.1,655.9 L341.7,645.0 L344.9,657.3 L349.0,684.5 L352.6,711.8 L355.3,758.2 L358.6,804.5 L361.3,848.1 L363.5,875.4 L366.8,891.8 L370.0,905.4 L373.6,875.4 L377.1,850.9 L380.9,848.1 L384.5,837.2 L388.6,848.1 L390.0,860.2 L392.4,880.2 L394.4,904.2 L396.0,924.3 L398.0,960.3 L401.0,961.3 L403.6,972.4 L406.0,984.4 L408.0,970.4 L410.1,950.3 L412.1,924.3 L414.1,900.2 L416.5,880.2 L418.5,846.1 L420.1,812.1 L423.1,808.1 L427.1,804.1 L429.7,808.1 L432.1,820.1 L434.5,880.2 L437.1,900.2 L439.1,920.3 L441.1,950.3 L443.1,974.4 L445.1,996.4 L448.1,994.4 L451.1,970.4 L454.1,962.3 L457.1,960.3 L460.1,965.3 L463.1,920.3 L465.1,940.3 L467.1,966.3 L469.7,972.4 L472.2,978.4 L474.2,1000.4 L475.8,1020.4 L477.2,1044.5 L479.2,1048.5 L481.2,1050.5 L483.2,1080.5 L486.2,1088.5 L489.2,1092.6 L492.2,1095.6 L494.6,1060.5 L497.2,1044.5 L499.8,1032.5 L502.2,1016.4 L505.8,1008.4 L509.2,1012.4 L513.2,1020.4 L515.8,1040.5 L517.2,1050.5 L520.2,1050.5 L522.2,1064.5 L524.6,1076.5 L528.2,1076.5 L531.9,1074.5 L534.7,1082.5 L537.3,1066.5 L539.3,1042.5 L541.9,1017.4 L544.7,1027.4 L547.9,1024.4 L550.7,1034.5 L553.3,1028.4 L556.3,1026.4 L557.9,1044.5 L559.9,1060.5 L562.7,1068.5 L565.3,1074.5 L567.9,1080.5 L570.3,1067.5 L572.7,1084.5 L574.3,1102.6 L576.3,1084.5 L578.3,1070.5 L581.3,1070.5 L584.3,1060.5 L587.3,1072.5 L589.9,1064.5 L592.4,1052.5 L594.8,1039.5 L597.4,1041.5 L600.4,1042.5 L603.4,1036.5 L606.4,1030.5 L609.4,1036.5 L612.4,1040.5 L615.4,1042.5 L618.0,1041.5 L620.4,1042.5 L623.4,1050.5 L626.0,1048.5 L628.4,1044.5 L631.4,1040.5 L634.0,1022.4 L637.4,1024.4 L640.4,992.4 L642.4,975.4 L645.4,976.4 L648.8,978.4 L650.9,966.3 L652.9,958.3 L654.9,976.4 L657.5,994.4 L660.5,997.4 L663.5,996.4 L666.5,997.4 L669.5,1000.4 L672.5,1002.4 L674.9,1003.4 L677.5,1018.4 L680.5,1030.5 L683.5,1036.5 L686.5,1038.5 L689.5,1039.5 L692.1,1044.5 L694.5,1058.5 L696.1,1076.5 L699.5,1078.5 L701.1,1082.1 L703.4,1087.2 L705.4,1081.2 L708.0,1073.5 L710.5,1063.2 L712.3,1047.8 L713.6,1035.0 L715.7,1037.5 L717.7,1041.8 L720.0,1041.0 L722.5,1022.1 L724.2,1005.0 L726.8,999.9 L729.0,993.0 L731.4,982.7 L733.7,993.0 L735.4,1003.3 L738.3,994.7 L740.5,998.2 L743.1,1006.7 L745.7,1017.0 L749.1,1032.4 L751.6,1017.0 L753.4,1008.4 L755.9,1011.8 L758.5,1015.3 L761.1,1018.7 L763.6,1022.1 L766.2,1017.8 L768.4,1014.4 L770.5,1023.8 L772.2,1018.7 L774.2,1010.1 L776.5,1015.3 L779.0,1020.4 L781.6,1023.8 L783.8,1017.0 L785.0,1013.6 L786.7,1034.1 L788.5,1044.4 L791.0,1047.8 L793.1,1042.7 L795.3,1037.5 L797.0,1049.5 L798.2,1063.2 L799.9,1082.1 L802.2,1087.2 L804.7,1090.6 L807.3,1093.2 L809.9,1097.5 L812.4,1096.6 L815.9,1094.0 L818.4,1088.9 L821.0,1078.6 L822.7,1068.4 L824.4,1058.1 L827.0,1063.2 L829.6,1064.1 L832.1,1059.8 L834.7,1051.2 L836.9,1044.4 L839.0,1040.1 L840.7,1027.3 L842.4,1006.7 L844.1,1017.0 L845.8,1029.0 L847.5,1030.7 L850.1,1032.4 L851.8,1042.7 L853.5,1049.5 L855.2,1044.4 L857.5,1037.5 L860.4,1033.3 L862.1,1039.2 L863.8,1044.4 L865.5,1037.5 L867.2,1031.5 L868.9,1035.8 L871.5,1039.2 L874.1,1035.8 L875.8,1042.7 L877.5,1054.7 L879.7,1055.5 L882.6,1056.4 L885.2,1080.3 L886.9,1067.5 L889.0,1059.8 L891.2,1066.6 L893.8,1061.5 L896.3,1058.9 L898.9,1059.8 L901.5,1058.1 L904.0,1052.9 L906.6,1044.4 L908.8,1058.1 L910.9,1076.9 L912.6,1054.7 L915.2,1049.5 L917.7,1047.0 L920.3,1054.7 L922.5,1056.4 L924.9,1054.7 L927.2,1049.5 L929.7,1046.1 L932.3,1044.4 L934.5,1032.4 L936.2,1032.4 L937.9,1042.7 L940.0,1037.5 L942.1,1030.7 L944.3,1023.8 L946.5,1020.4 L948.6,1023.8 L950.6,1030.7 L952.0,1017.0 L953.7,1007.6 L955.4,1022.1 L957.1,1041.0 L959.2,1046.1 L962.3,1051.2 L964.0,1066.6 L966.0,1059.8 L967.7,1048.7 L970.8,1051.2 L972.9,1059.8 L975.1,1070.1 L977.7,1085.5 L979.4,1093.2 L982.0,1088.9 L984.5,1084.6 L987.1,1088.0 L989.7,1095.8 L992.7,1097.5 L994.8,1085.5 L997.4,1071.8 L999.9,1058.1 L1002.5,1037.5 L1005.1,1044.4 L1007.6,1050.4 L1010.2,1041.0 L1012.8,1032.4 L1015.3,1022.1 L1017.4,1012.7 L1019.6,1017.0 L1022.2,1025.5 L1024.8,1025.5 L1027.0,1024.7 L1029.0,1025.5 L1031.1,1029.8 L1033.3,1025.5 L1037.6,1023.8" fill="none" stroke="#2372aa" stroke-width="3.5" stroke-linejoin="round" clip-path="url(#clipc)"/>
<path d="M81.0,1079.9 L85.9,1079.9 L91.4,1084.0 L96.8,1082.6 L102.3,1082.6 L107.7,1081.3 L113.2,1084.0 L118.6,1082.6 L122.7,1079.9 L126.8,1084.0 L132.3,1081.3 L137.7,1082.6 L143.2,1081.3 L147.3,1079.9 L152.7,1081.3 L156.8,1082.6 L162.3,1082.6 L167.7,1084.0 L173.2,1084.0 L178.6,1082.6 L182.7,1079.9 L186.8,1082.6 L192.3,1082.6 L197.7,1082.6 L203.2,1084.0 L208.6,1084.0 L212.7,1082.6 L216.8,1082.6 L222.2,1081.3 L227.7,1078.6 L231.8,1078.6 L235.9,1079.9 L240.0,1077.2 L244.1,1074.5 L248.1,1074.5 L252.2,1073.1 L257.1,1070.4 L261.8,1069.0 L265.9,1067.6 L270.0,1066.3 L274.1,1063.6 L278.1,1063.6 L282.2,1062.2 L286.3,1064.9 L290.4,1063.6 L294.5,1062.2 L298.6,1060.8 L302.7,1059.5 L305.4,1062.2 L308.1,1056.7 L311.7,1049.9 L315.0,1041.7 L317.7,1028.1 L320.4,1017.2 L323.7,1006.3 L326.4,995.4 L330.0,983.1 L334.0,970.8 L338.1,968.1 L341.7,964.0 L345.5,973.6 L349.0,983.1 L352.6,991.3 L357.2,994.0 L360.8,995.4 L364.0,998.1 L368.1,992.7 L370.9,985.8 L374.9,983.1 L379.0,980.4 L383.1,976.3 L388.6,976.3 L391.0,976.4 L395.0,976.8 L399.0,977.4 L403.0,978.4 L407.0,978.4 L411.1,980.4 L415.1,982.4 L419.1,984.4 L422.1,988.4 L424.5,993.4 L427.1,996.4 L430.1,997.4 L433.7,992.4 L436.1,995.4 L439.1,997.4 L442.1,997.4 L445.1,998.0 L449.1,999.4 L452.1,1000.4 L455.1,1003.4 L458.1,1008.4 L461.1,1015.4 L464.1,1021.4 L467.1,1026.4 L470.2,1029.4 L473.2,1029.4 L476.2,1028.4 L479.2,1026.4 L482.2,1023.4 L485.2,1022.4 L488.2,1024.4 L491.2,1021.4 L494.2,1020.4 L496.6,1022.4 L499.2,1029.4 L502.2,1032.5 L505.2,1038.5 L508.2,1042.5 L511.2,1045.5 L514.2,1048.5 L517.2,1048.5 L520.2,1045.5 L523.2,1041.5 L526.2,1038.5 L529.2,1036.5 L532.3,1034.5 L535.3,1033.5 L538.3,1035.5 L541.3,1037.5 L543.9,1044.5 L546.7,1041.5 L549.3,1045.5 L551.9,1046.5 L554.7,1048.5 L557.3,1047.5 L559.9,1049.5 L562.7,1050.5 L565.3,1048.5 L568.3,1046.5 L571.3,1044.5 L574.3,1042.5 L577.3,1040.5 L580.3,1039.5 L583.3,1038.5 L586.3,1038.5 L589.3,1039.5 L592.0,1044.5 L594.8,1041.5 L597.4,1045.5 L600.4,1047.5 L603.4,1047.5 L606.4,1049.5 L609.4,1045.5 L612.4,1046.5 L615.4,1044.5 L618.4,1042.5 L621.4,1044.5 L624.4,1046.5 L627.4,1048.5 L630.4,1047.5 L633.4,1046.5 L636.4,1046.5 L639.4,1046.5 L642.4,1043.5 L645.4,1044.5 L648.4,1040.5 L651.5,1039.5 L654.5,1038.5 L657.5,1036.5 L660.5,1037.5 L663.5,1036.5 L666.5,1037.5 L669.5,1039.5 L672.5,1041.5 L675.5,1044.5 L678.5,1047.5 L681.5,1051.5 L684.5,1053.5 L687.5,1054.5 L690.1,1055.5 L692.9,1052.5 L695.5,1048.5 L698.5,1044.5 L700.3,1042.7 L703.7,1042.3 L707.1,1042.7 L710.5,1043.5 L714.0,1044.4 L717.4,1044.7 L720.8,1044.0 L724.2,1045.2 L727.7,1046.4 L731.1,1047.8 L734.9,1050.4 L737.9,1049.5 L741.4,1047.8 L744.8,1047.0 L748.2,1046.1 L751.6,1046.1 L754.2,1047.0 L757.1,1049.5 L760.2,1047.0 L762.8,1045.2 L765.3,1046.1 L767.9,1045.2 L770.5,1042.7 L773.9,1041.3 L777.3,1041.8 L780.8,1043.5 L783.8,1045.2 L786.7,1048.7 L789.3,1051.2 L792.7,1052.9 L795.3,1057.2 L798.7,1058.9 L802.2,1060.7 L804.7,1059.8 L807.3,1057.2 L809.9,1055.5 L813.3,1054.7 L816.7,1053.8 L820.1,1052.9 L823.6,1052.1 L827.0,1052.9 L830.4,1051.2 L833.8,1050.4 L837.3,1049.5 L840.7,1049.5 L844.1,1049.5 L847.5,1050.0 L851.0,1050.7 L854.4,1052.1 L857.8,1053.8 L860.4,1054.7 L862.9,1051.2 L865.5,1052.1 L868.1,1053.8 L870.7,1054.7 L873.2,1052.9 L875.8,1052.1 L878.4,1052.1 L881.8,1052.1 L885.2,1051.2 L888.6,1050.4 L892.1,1051.2 L895.5,1052.9 L898.9,1053.8 L902.3,1053.3 L905.8,1055.5 L909.2,1056.4 L912.6,1055.5 L916.0,1057.2 L919.5,1058.1 L922.9,1058.1 L926.3,1058.1 L928.9,1058.9 L931.4,1052.9 L934.0,1051.2 L936.6,1050.4 L940.0,1051.2 L943.4,1052.1 L946.0,1050.4 L948.6,1053.8 L952.0,1055.5 L955.4,1055.5 L958.8,1055.5 L962.3,1058.1 L965.7,1059.8 L969.1,1058.9 L972.5,1060.7 L976.0,1061.5 L979.4,1062.4 L982.8,1062.4 L985.4,1060.7 L988.3,1057.2 L991.4,1059.8 L994.8,1059.8 L998.2,1059.8 L1001.6,1058.1 L1005.1,1054.7 L1008.5,1050.4 L1011.1,1049.5 L1013.6,1051.2 L1017.1,1052.9 L1020.5,1054.7 L1023.0,1055.5 L1025.6,1055.5 L1028.2,1056.4 L1030.8,1059.8 L1037.6,1058.9" fill="none" stroke="#ec8024" stroke-width="3.5" stroke-linejoin="round" clip-path="url(#clipc)"/>
<line x1="80.4" x2="1035.8" y1="1082.1" y2="1082.1" stroke="#000" stroke-width="1.4" stroke-dasharray="3.9 2.7"/>
<rect x="80.4" y="621.6" width="955.4" height="508.4" fill="none" stroke="#000" stroke-width="1.7"/>
<line x1="80.4" x2="80.4" y1="1130.0" y2="1138.7" stroke="#000" stroke-width="1.7"/>
<text transform="translate(80.4,1169.0) scale(1,1.035)" class="tk" text-anchor="middle">0</text>
<line x1="187.7" x2="187.7" y1="1130.0" y2="1138.7" stroke="#000" stroke-width="1.7"/>
<text transform="translate(187.7,1169.0) scale(1,1.035)" class="tk" text-anchor="middle"><tspan font-family="IPAGothic, 'Liberation Sans', sans-serif" stroke="#000" stroke-width="0.35" dx="0.84" dy="1.38">1</tspan><tspan dx="0.84" dy="-1.38">​</tspan></text>
<line x1="295.1" x2="295.1" y1="1130.0" y2="1138.7" stroke="#000" stroke-width="1.7"/>
<text transform="translate(295.1,1169.0) scale(1,1.035)" class="tk" text-anchor="middle">2</text>
<line x1="402.4" x2="402.4" y1="1130.0" y2="1138.7" stroke="#000" stroke-width="1.7"/>
<text transform="translate(402.4,1169.0) scale(1,1.035)" class="tk" text-anchor="middle">3</text>
<line x1="509.8" x2="509.8" y1="1130.0" y2="1138.7" stroke="#000" stroke-width="1.7"/>
<text transform="translate(509.8,1169.0) scale(1,1.035)" class="tk" text-anchor="middle">4</text>
<line x1="617.1" x2="617.1" y1="1130.0" y2="1138.7" stroke="#000" stroke-width="1.7"/>
<text transform="translate(617.1,1169.0) scale(1,1.035)" class="tk" text-anchor="middle">5</text>
<line x1="724.5" x2="724.5" y1="1130.0" y2="1138.7" stroke="#000" stroke-width="1.7"/>
<text transform="translate(724.5,1169.0) scale(1,1.035)" class="tk" text-anchor="middle">6</text>
<line x1="831.8" x2="831.8" y1="1130.0" y2="1138.7" stroke="#000" stroke-width="1.7"/>
<text transform="translate(831.8,1169.0) scale(1,1.035)" class="tk" text-anchor="middle">7</text>
<line x1="939.2" x2="939.2" y1="1130.0" y2="1138.7" stroke="#000" stroke-width="1.7"/>
<text transform="translate(939.2,1169.0) scale(1,1.035)" class="tk" text-anchor="middle">8</text>
<line x1="71.7" x2="80.4" y1="1082.1" y2="1082.1" stroke="#000" stroke-width="1.7"/>
<text transform="translate(63.1,1092.7) scale(1,1.035)" class="tk" text-anchor="end">0</text>
<line x1="71.7" x2="80.4" y1="984.7" y2="984.7" stroke="#000" stroke-width="1.7"/>
<text transform="translate(63.1,995.3) scale(1,1.035)" class="tk" text-anchor="end">2</text>
<line x1="71.7" x2="80.4" y1="887.3" y2="887.3" stroke="#000" stroke-width="1.7"/>
<text transform="translate(63.1,897.9) scale(1,1.035)" class="tk" text-anchor="end">4</text>
<line x1="71.7" x2="80.4" y1="789.8" y2="789.8" stroke="#000" stroke-width="1.7"/>
<text transform="translate(63.1,800.4) scale(1,1.035)" class="tk" text-anchor="end">6</text>
<line x1="71.7" x2="80.4" y1="692.4" y2="692.4" stroke="#000" stroke-width="1.7"/>
<text transform="translate(63.1,703.0) scale(1,1.035)" class="tk" text-anchor="end">8</text>
<text x="558.1" y="1210.8" class="al" text-anchor="middle">Time, ps</text>
<text transform="translate(23.6,1045.5) rotate(-90)" class="al" letter-spacing="0.25">Δ<tspan font-style="italic">I/I</tspan>, norm. to 3.5-4.5 ps</text>
<line x1="762.6" x2="815.5" y1="654.8" y2="654.8" stroke="#2372aa" stroke-width="3.0"/>
<text x="833.1" y="661.8" class="lg">K 20 <tspan font-style="italic">μ</tspan>m 300 K</text>
<line x1="762.6" x2="815.5" y1="694.3" y2="694.3" stroke="#ec8024" stroke-width="3.0"/>
<text x="833.1" y="701.3" class="lg">K <tspan font-family="IPAGothic, 'Liberation Sans', sans-serif" stroke="#000" stroke-width="0.35" dx="0.70" dy="1.00">1</tspan><tspan dx="0.70" dy="-1.00">60 </tspan><tspan font-style="italic">μ</tspan>m 300 K</text>
<text x="11.9" y="646.9" class="pl">c</text>
<path d="M1136.8,1090.8 L1139.5,1092.2 L1143.1,1082.6 L1146.4,1082.6 L1149.6,1093.6 L1154.0,1105.8 L1157.3,1064.9 L1160.0,1077.2 L1162.7,1088.1 L1165.4,1093.6 L1168.2,1077.2 L1171.4,1077.2 L1175.0,1093.6 L1179.1,1074.5 L1182.4,1085.4 L1185.9,1081.3 L1190.0,1077.2 L1194.1,1074.5 L1197.6,1081.3 L1200.9,1073.1 L1204.2,1074.5 L1207.7,1060.8 L1211.3,1048.6 L1215.1,1060.8 L1218.6,1045.8 L1222.2,1077.2 L1225.4,1028.1 L1229.5,1024.0 L1233.1,1030.8 L1236.9,1044.5 L1240.4,1019.9 L1244.0,991.3 L1247.3,1063.6 L1251.3,1028.1 L1255.4,1029.5 L1258.7,1034.9 L1262.2,1028.1 L1265.8,1025.4 L1269.1,1030.8 L1273.2,1047.2 L1277.2,1055.4 L1280.0,1058.1 L1283.2,1044.5 L1286.8,1051.3 L1290.9,1033.6 L1294.2,1022.7 L1297.7,992.7 L1301.2,961.3 L1304.5,902.7 L1308.6,831.8 L1312.1,760.9 L1315.4,739.1 L1318.1,657.3 L1322.2,646.4 L1325.8,645.0 L1329.1,670.9 L1334.0,722.7 L1337.2,793.6 L1340.0,875.4 L1340.8,900.0 L1346.9,985.7 L1351.2,957.5 L1354.9,967.3 L1358.6,914.1 L1361.9,937.3 L1365.3,900.0 L1368.6,872.7 L1372.1,876.8 L1376.0,875.4 L1379.5,913.6 L1383.6,920.4 L1387.7,938.1 L1391.2,924.5 L1394.5,897.2 L1398.6,861.8 L1401.3,826.3 L1404.9,786.8 L1408.1,804.5 L1411.4,797.7 L1414.9,820.9 L1417.7,853.6 L1420.4,889.0 L1423.9,929.9 L1427.2,970.8 L1429.9,1011.7 L1434.0,1011.7 L1437.6,1011.7 L1440.9,981.8 L1444.1,968.1 L1447.5,917.4 L1447.7,919.0 L1450.8,918.3 L1453.0,921.6 L1455.0,928.2 L1456.6,929.1 L1458.6,926.6 L1460.8,929.9 L1463.3,934.9 L1465.8,949.9 L1467.4,966.5 L1468.6,988.1 L1469.9,1004.8 L1471.9,999.8 L1474.1,994.8 L1476.3,979.8 L1478.3,986.5 L1480.4,1001.4 L1482.4,974.8 L1484.1,970.7 L1486.6,969.8 L1488.6,959.8 L1490.7,953.2 L1492.9,961.5 L1495.7,973.2 L1498.2,979.8 L1500.7,986.5 L1503.2,989.0 L1505.7,989.8 L1507.4,1006.4 L1509.0,1018.1 L1511.9,1024.7 L1514.5,1021.4 L1516.5,1016.4 L1518.2,984.8 L1520.7,988.1 L1523.2,996.4 L1525.2,1009.7 L1526.8,1023.1 L1529.0,999.8 L1531.5,983.1 L1534.0,971.5 L1536.5,986.5 L1539.0,1006.4 L1540.6,1019.7 L1542.3,996.4 L1544.5,978.1 L1546.5,999.8 L1548.5,1018.1 L1550.6,1004.8 L1553.1,1006.4 L1555.1,1030.5 L1557.3,1029.7 L1559.8,1024.7 L1561.8,996.4 L1563.9,998.1 L1566.4,1001.4 L1568.1,998.1 L1570.6,998.9 L1573.1,998.1 L1574.4,1013.1 L1576.4,1039.7 L1578.9,1026.4 L1581.1,1016.4 L1583.4,1006.4 L1585.5,991.4 L1587.2,979.8 L1588.9,993.1 L1591.4,1008.1 L1593.0,1021.4 L1594.7,1030.5 L1596.4,1016.4 L1598.0,1006.4 L1599.7,1008.1 L1602.2,1026.4 L1603.8,1016.4 L1605.5,1003.9 L1607.2,1013.1 L1608.8,1028.0 L1611.0,1023.1 L1613.0,1029.7 L1615.5,1048.0 L1617.7,1039.7 L1620.5,1031.4 L1623.0,1026.4 L1625.0,1036.4 L1627.1,1043.8 L1629.6,1024.7 L1631.6,1011.4 L1633.8,994.8 L1636.3,999.8 L1638.8,1008.1 L1641.3,1013.1 L1644.3,994.8 L1646.3,1013.1 L1648.3,1033.0 L1650.4,1016.4 L1652.9,996.4 L1655.4,981.5 L1657.6,999.8 L1659.6,1019.7 L1662.1,1029.7 L1664.6,1036.4 L1667.1,1041.4 L1669.5,1046.3 L1672.0,1036.4 L1674.5,1006.4 L1676.5,991.4 L1678.2,1019.7 L1679.9,1044.7 L1682.0,1028.0 L1684.2,1026.4 L1685.9,1051.3 L1687.8,1080.4 L1689.5,1066.3 L1691.5,1038.0 L1693.7,1058.0 L1696.2,1056.3 L1698.7,1051.3 L1701.2,1046.3 L1703.6,1029.7 L1705.8,1016.4 L1707.5,1029.7 L1709.5,1054.7 L1711.5,1026.4 L1713.6,1023.1 L1716.1,1018.1 L1717.8,1029.7 L1720.3,1043.0 L1722.8,1038.0 L1724.8,1029.7 L1726.9,1023.1 L1730.3,1008.1 L1731.9,1029.7 L1734.1,1063.0 L1736.4,1053.0 L1738.6,1046.3 L1741.1,1039.7 L1743.6,1029.7 L1745.2,1024.7 L1746.9,1043.0 L1749.1,1059.6 L1751.4,1069.6 L1753.6,1054.7 L1755.2,1038.0 L1757.7,1023.1 L1759.4,1013.1 L1761.9,1038.0 L1764.0,1021.4 L1766.0,989.0 L1768.0,1013.1 L1770.2,1041.4 L1772.3,1029.7 L1774.3,1004.8 L1777.7,1003.1 L1777.9,999.6 L1780.7,996.4 L1782.6,1010.6 L1785.0,1026.4 L1787.4,1034.3 L1789.0,1039.1 L1790.2,1054.9 L1791.3,1065.9 L1793.4,1064.3 L1795.3,1053.3 L1797.2,1065.9 L1799.2,1077.0 L1801.6,1092.0 L1804.0,1073.8 L1806.3,1054.9 L1808.7,1079.4 L1811.1,1064.3 L1813.0,1048.5 L1815.8,1039.9 L1818.2,1045.4 L1820.9,1054.1 L1823.7,1061.2 L1826.1,1055.7 L1828.5,1050.1 L1831.6,1048.5 L1834.8,1048.5 L1837.6,1047.0 L1841.1,1031.2 L1843.5,1039.1 L1845.9,1045.4 L1848.2,1048.5 L1850.6,1037.5 L1853.8,1038.3 L1856.1,1040.6 L1858.5,1047.0 L1860.9,1035.9 L1862.9,1028.0 L1864.8,1045.4 L1866.1,1061.2 L1868.8,1058.0 L1871.1,1067.5 L1873.0,1077.0 L1875.6,1078.6 L1877.5,1067.5 L1879.8,1058.0 L1882.2,1051.7 L1884.6,1050.1 L1886.9,1051.7 L1889.3,1053.3 L1890.9,1065.9 L1893.3,1070.7 L1895.6,1073.8 L1898.0,1077.0 L1899.9,1078.6 L1901.5,1040.6 L1903.1,1067.5 L1905.1,1084.9 L1907.2,1070.7 L1909.1,1061.2 L1911.4,1061.2 L1913.8,1061.2 L1916.2,1058.0 L1918.5,1053.3 L1921.7,1050.1 L1924.9,1047.0 L1927.2,1043.8 L1928.8,1035.9 L1930.9,1028.0 L1932.8,1035.9 L1934.7,1039.1 L1937.2,1016.1 L1939.9,1016.1 L1942.2,1012.2 L1944.6,1004.3 L1946.7,1013.8 L1948.6,1026.4 L1950.1,1039.1 L1952.5,1050.1 L1954.1,1042.2 L1956.2,1024.8 L1958.0,1037.5 L1959.9,1058.0 L1962.0,1040.6 L1964.1,1054.9 L1965.9,1069.1 L1968.3,1081.7 L1969.9,1091.2 L1971.5,1084.9 L1973.9,1081.7 L1976.2,1087.3 L1979.4,1085.7 L1982.5,1084.1 L1984.9,1080.1 L1987.8,1069.1 L1990.4,1072.2 L1992.8,1065.9 L1995.2,1061.2 L1997.6,1042.2 L1999.9,1037.5 L2002.3,1037.5 L2004.2,1050.1 L2006.2,1062.8 L2008.6,1064.3 L2011.0,1065.9 L2013.4,1051.7 L2015.7,1039.1 L2018.9,1035.9 L2020.9,1034.3 L2022.8,1045.4 L2025.2,1059.6 L2027.3,1078.6 L2029.5,1067.5 L2032.0,1056.4 L2034.2,1048.5 L2036.3,1062.8 L2038.6,1078.6 L2040.5,1069.1 L2043.4,1061.2 L2046.2,1056.4 L2048.1,1069.1 L2050.5,1058.0 L2052.5,1053.3 L2054.4,1072.2 L2056.0,1100.7 L2057.9,1077.0 L2059.5,1056.4 L2062.3,1061.2 L2065.2,1069.1 L2067.4,1075.4 L2070.2,1056.4 L2072.1,1061.2 L2074.2,1065.9 L2076.6,1059.6 L2079.7,1054.9 L2082.9,1051.7 L2086.0,1048.5 L2089.2,1048.5 L2092.4,1051.7" fill="none" stroke="#2372aa" stroke-width="3.5" stroke-linejoin="round" clip-path="url(#clipd)"/>
<path d="M1136.8,1085.4 L1140.9,1085.9 L1145.0,1086.7 L1149.1,1086.7 L1153.2,1085.4 L1157.3,1089.5 L1161.4,1079.9 L1165.4,1078.6 L1169.5,1079.9 L1173.1,1088.1 L1176.9,1082.6 L1180.4,1084.0 L1184.5,1084.0 L1188.6,1082.6 L1192.7,1089.5 L1196.8,1084.0 L1200.9,1081.3 L1205.0,1085.4 L1209.1,1088.1 L1213.2,1084.0 L1217.3,1082.6 L1221.3,1084.0 L1225.4,1084.0 L1229.5,1078.6 L1233.6,1078.6 L1237.7,1074.5 L1241.8,1073.1 L1245.9,1071.7 L1250.0,1071.2 L1254.1,1069.0 L1258.2,1066.3 L1262.2,1063.6 L1266.3,1066.3 L1269.1,1067.6 L1271.8,1059.5 L1275.9,1058.1 L1280.0,1060.8 L1284.1,1064.9 L1288.2,1063.6 L1292.2,1058.1 L1295.0,1055.4 L1299.1,1054.0 L1303.1,1045.8 L1306.7,1032.2 L1310.0,1011.7 L1312.7,992.7 L1316.0,973.6 L1319.5,951.8 L1320.0,942.8 L1323.7,927.5 L1326.1,918.4 L1329.5,908.6 L1332.2,914.1 L1337.1,927.5 L1340.2,939.8 L1343.3,955.1 L1345.7,973.4 L1346.9,984.5 L1349.4,988.7 L1353.0,1001.0 L1357.9,1006.5 L1362.8,999.1 L1366.5,994.9 L1370.2,979.6 L1375.1,967.3 L1381.2,952.0 L1383.6,948.3 L1386.1,946.5 L1391.6,945.3 L1393.4,942.8 L1400.8,935.5 L1405.7,941.6 L1407.5,950.2 L1411.8,955.1 L1415.5,967.3 L1417.9,976.5 L1420.0,978.3 L1421.8,979.0 L1425.9,981.8 L1429.9,977.7 L1434.9,974.1 L1439.5,972.2 L1443.6,970.8 L1447.7,972.2 L1448.3,973.2 L1450.8,976.5 L1453.3,977.3 L1455.8,977.3 L1458.3,979.8 L1460.8,983.1 L1463.0,988.1 L1465.0,994.8 L1467.4,993.1 L1469.6,991.4 L1471.9,993.1 L1474.1,989.8 L1476.6,984.8 L1479.1,981.5 L1481.3,986.5 L1483.2,989.8 L1485.7,990.6 L1488.2,989.8 L1490.7,989.8 L1492.9,991.4 L1495.2,994.8 L1497.9,997.3 L1500.7,998.9 L1503.2,1001.4 L1505.7,1003.1 L1508.2,1003.9 L1510.7,1005.6 L1513.2,1005.6 L1515.2,1003.1 L1517.3,998.1 L1519.5,995.6 L1521.5,998.9 L1524.0,1003.1 L1526.5,1004.8 L1529.0,1003.9 L1531.5,1004.8 L1534.0,1006.4 L1536.5,1008.1 L1539.0,1008.9 L1541.5,1009.7 L1544.0,1008.1 L1546.5,1006.4 L1549.0,1007.3 L1551.4,1009.7 L1553.9,1012.2 L1556.4,1008.1 L1558.4,1003.9 L1560.6,1008.1 L1563.1,1010.6 L1565.6,1011.4 L1568.1,1008.9 L1570.6,1011.4 L1573.1,1013.1 L1575.6,1011.4 L1578.1,1010.6 L1580.6,1009.7 L1583.1,1011.4 L1585.5,1011.4 L1588.0,1012.2 L1590.5,1013.1 L1593.0,1013.9 L1595.5,1014.7 L1598.0,1013.9 L1600.5,1013.1 L1603.0,1013.9 L1605.5,1015.6 L1608.0,1018.1 L1610.5,1019.7 L1613.0,1022.2 L1615.5,1023.1 L1618.0,1022.2 L1620.5,1021.4 L1623.0,1022.2 L1625.5,1024.7 L1628.0,1025.5 L1630.5,1022.2 L1633.0,1020.6 L1635.5,1018.9 L1637.9,1017.7 L1640.4,1017.2 L1642.9,1017.2 L1645.4,1017.2 L1647.9,1016.4 L1650.4,1015.6 L1652.9,1016.4 L1655.4,1018.1 L1657.9,1019.7 L1660.4,1022.2 L1662.9,1023.4 L1665.4,1023.1 L1667.9,1023.9 L1670.4,1025.5 L1672.9,1027.2 L1675.4,1030.5 L1677.9,1032.2 L1680.4,1032.2 L1682.9,1033.0 L1685.4,1033.9 L1687.8,1033.9 L1690.3,1033.9 L1692.8,1034.7 L1695.3,1033.9 L1697.8,1033.0 L1700.3,1033.9 L1702.8,1035.5 L1705.3,1033.9 L1707.8,1031.4 L1710.3,1029.7 L1712.8,1030.5 L1715.3,1031.4 L1717.8,1033.9 L1720.3,1035.5 L1722.8,1036.4 L1725.3,1037.2 L1727.8,1037.2 L1730.3,1037.2 L1732.8,1037.2 L1735.3,1039.7 L1737.7,1044.7 L1740.2,1043.0 L1742.7,1040.5 L1745.2,1039.7 L1747.7,1041.4 L1750.2,1043.8 L1752.7,1043.0 L1755.2,1041.4 L1757.7,1041.4 L1760.2,1039.7 L1762.7,1038.9 L1765.2,1036.4 L1767.7,1034.7 L1770.2,1034.7 L1772.7,1037.2 L1775.2,1044.7 L1777.7,1042.2 L1779.5,1039.1 L1782.6,1039.1 L1785.0,1042.2 L1787.4,1045.4 L1789.8,1050.1 L1792.9,1048.5 L1796.1,1049.3 L1798.4,1048.5 L1801.6,1047.0 L1804.8,1050.1 L1807.9,1047.8 L1811.1,1048.5 L1814.2,1050.1 L1817.4,1050.1 L1820.6,1050.9 L1823.7,1050.1 L1826.9,1048.5 L1830.0,1049.3 L1833.2,1047.0 L1835.6,1051.7 L1838.0,1058.0 L1840.3,1049.3 L1842.7,1050.1 L1845.1,1051.7 L1848.2,1053.3 L1851.4,1051.7 L1854.5,1050.1 L1857.7,1051.7 L1860.1,1053.3 L1863.2,1054.1 L1866.4,1054.5 L1869.6,1054.9 L1872.7,1054.9 L1875.9,1054.9 L1879.0,1054.1 L1881.4,1052.5 L1883.8,1054.1 L1886.9,1056.4 L1890.1,1055.7 L1893.3,1056.4 L1896.4,1057.2 L1899.6,1058.8 L1902.7,1058.0 L1905.9,1056.4 L1909.1,1057.2 L1912.2,1058.0 L1914.6,1054.9 L1917.0,1050.1 L1919.3,1051.7 L1921.7,1054.1 L1924.9,1055.7 L1928.0,1053.3 L1930.9,1047.0 L1933.1,1053.3 L1935.9,1058.0 L1938.3,1055.7 L1940.7,1053.3 L1943.8,1052.5 L1947.0,1052.5 L1950.1,1054.9 L1953.3,1058.0 L1956.5,1060.4 L1959.6,1061.2 L1962.8,1062.8 L1965.9,1064.3 L1969.1,1065.1 L1972.3,1064.3 L1975.4,1062.8 L1978.6,1064.3 L1981.8,1065.1 L1984.9,1065.9 L1988.1,1062.8 L1991.2,1058.8 L1994.4,1061.2 L1997.6,1064.3 L2000.7,1062.8 L2003.9,1060.4 L2007.0,1059.6 L2010.2,1060.4 L2013.4,1061.2 L2016.5,1058.8 L2019.7,1058.0 L2022.8,1062.8 L2026.0,1065.1 L2029.2,1064.3 L2032.3,1062.0 L2035.5,1064.3 L2038.6,1066.7 L2041.8,1067.5 L2045.0,1064.3 L2048.1,1060.4 L2051.3,1062.8 L2054.4,1066.7 L2057.6,1064.3 L2060.8,1062.8 L2063.9,1065.1 L2067.1,1064.3 L2070.2,1064.3 L2073.4,1070.7 L2076.6,1063.6 L2079.7,1064.3 L2082.9,1065.9 L2086.0,1068.3 L2092.4,1067.5" fill="none" stroke="#ec8024" stroke-width="3.5" stroke-linejoin="round" clip-path="url(#clipd)"/>
<line x1="1136.5" x2="2091.2" y1="1085.8" y2="1085.8" stroke="#000" stroke-width="1.4" stroke-dasharray="3.9 2.7"/>
<rect x="1136.5" y="621.7" width="954.7" height="508.6" fill="none" stroke="#000" stroke-width="1.7"/>
<line x1="1136.5" x2="1136.5" y1="1130.3" y2="1139.0" stroke="#000" stroke-width="1.7"/>
<text transform="translate(1136.5,1169.3) scale(1,1.035)" class="tk" text-anchor="middle">0</text>
<line x1="1243.8" x2="1243.8" y1="1130.3" y2="1139.0" stroke="#000" stroke-width="1.7"/>
<text transform="translate(1243.8,1169.3) scale(1,1.035)" class="tk" text-anchor="middle"><tspan font-family="IPAGothic, 'Liberation Sans', sans-serif" stroke="#000" stroke-width="0.35" dx="0.84" dy="1.38">1</tspan><tspan dx="0.84" dy="-1.38">​</tspan></text>
<line x1="1351.0" x2="1351.0" y1="1130.3" y2="1139.0" stroke="#000" stroke-width="1.7"/>
<text transform="translate(1351.0,1169.3) scale(1,1.035)" class="tk" text-anchor="middle">2</text>
<line x1="1458.3" x2="1458.3" y1="1130.3" y2="1139.0" stroke="#000" stroke-width="1.7"/>
<text transform="translate(1458.3,1169.3) scale(1,1.035)" class="tk" text-anchor="middle">3</text>
<line x1="1565.6" x2="1565.6" y1="1130.3" y2="1139.0" stroke="#000" stroke-width="1.7"/>
<text transform="translate(1565.6,1169.3) scale(1,1.035)" class="tk" text-anchor="middle">4</text>
<line x1="1672.8" x2="1672.8" y1="1130.3" y2="1139.0" stroke="#000" stroke-width="1.7"/>
<text transform="translate(1672.8,1169.3) scale(1,1.035)" class="tk" text-anchor="middle">5</text>
<line x1="1780.1" x2="1780.1" y1="1130.3" y2="1139.0" stroke="#000" stroke-width="1.7"/>
<text transform="translate(1780.1,1169.3) scale(1,1.035)" class="tk" text-anchor="middle">6</text>
<line x1="1887.4" x2="1887.4" y1="1130.3" y2="1139.0" stroke="#000" stroke-width="1.7"/>
<text transform="translate(1887.4,1169.3) scale(1,1.035)" class="tk" text-anchor="middle">7</text>
<line x1="1994.7" x2="1994.7" y1="1130.3" y2="1139.0" stroke="#000" stroke-width="1.7"/>
<text transform="translate(1994.7,1169.3) scale(1,1.035)" class="tk" text-anchor="middle">8</text>
<line x1="1127.8" x2="1136.5" y1="1085.8" y2="1085.8" stroke="#000" stroke-width="1.7"/>
<text transform="translate(1119.2,1096.4) scale(1,1.035)" class="tk" text-anchor="end">0</text>
<line x1="1127.8" x2="1136.5" y1="1010.9" y2="1010.9" stroke="#000" stroke-width="1.7"/>
<text transform="translate(1119.2,1021.5) scale(1,1.035)" class="tk" text-anchor="end"><tspan font-family="IPAGothic, 'Liberation Sans', sans-serif" stroke="#000" stroke-width="0.35" dx="0.84" dy="1.38">1</tspan><tspan dx="0.84" dy="-1.38">​</tspan></text>
<line x1="1127.8" x2="1136.5" y1="936.1" y2="936.1" stroke="#000" stroke-width="1.7"/>
<text transform="translate(1119.2,946.7) scale(1,1.035)" class="tk" text-anchor="end">2</text>
<line x1="1127.8" x2="1136.5" y1="861.2" y2="861.2" stroke="#000" stroke-width="1.7"/>
<text transform="translate(1119.2,871.8) scale(1,1.035)" class="tk" text-anchor="end">3</text>
<line x1="1127.8" x2="1136.5" y1="786.3" y2="786.3" stroke="#000" stroke-width="1.7"/>
<text transform="translate(1119.2,796.9) scale(1,1.035)" class="tk" text-anchor="end">4</text>
<line x1="1127.8" x2="1136.5" y1="711.4" y2="711.4" stroke="#000" stroke-width="1.7"/>
<text transform="translate(1119.2,722.0) scale(1,1.035)" class="tk" text-anchor="end">5</text>
<line x1="1127.8" x2="1136.5" y1="636.6" y2="636.6" stroke="#000" stroke-width="1.7"/>
<text transform="translate(1119.2,647.2) scale(1,1.035)" class="tk" text-anchor="end">6</text>
<text x="1613.8" y="1210.8" class="al" text-anchor="middle">Time, ps</text>
<text transform="translate(1082.8,1045.9) rotate(-90)" class="al" letter-spacing="0.25">Δ<tspan font-style="italic">I/I</tspan>, norm. to 3.5-4.5 ps</text>
<line x1="1818.0" x2="1870.9" y1="654.9" y2="654.9" stroke="#2372aa" stroke-width="3.0"/>
<text x="1888.5" y="661.9" class="lg">K 20 <tspan font-style="italic">μ</tspan>m 620 K</text>
<line x1="1818.0" x2="1870.9" y1="694.4" y2="694.4" stroke="#ec8024" stroke-width="3.0"/>
<text x="1888.5" y="701.4" class="lg">K <tspan font-family="IPAGothic, 'Liberation Sans', sans-serif" stroke="#000" stroke-width="0.35" dx="0.70" dy="1.00">1</tspan><tspan dx="0.70" dy="-1.00">60 </tspan><tspan font-style="italic">μ</tspan>m 620 K</text>
<text x="1059.6" y="665.9" class="pl">d</text>
<path d="M97.6,1723.9 L102.3,1725.0 L106.4,1723.9 L111.8,1724.5 L117.3,1723.1 L122.7,1722.5 L128.2,1723.9 L132.3,1725.8 L137.7,1723.1 L144.5,1724.5 L150.0,1724.5 L155.4,1723.9 L160.9,1723.1 L166.3,1724.5 L171.8,1723.9 L177.3,1723.1 L182.7,1722.5 L188.2,1723.6 L193.6,1722.3 L199.1,1721.7 L204.5,1723.6 L210.0,1723.9 L215.4,1723.9 L220.9,1724.5 L226.3,1724.5 L231.8,1723.9 L237.2,1723.9 L242.7,1725.0 L248.2,1724.5 L253.6,1725.0 L259.1,1724.5 L264.5,1724.5 L270.0,1725.8 L274.1,1723.1 L278.1,1721.7 L283.6,1719.5 L289.1,1716.8 L294.5,1713.6 L298.6,1708.1 L302.7,1702.6 L306.8,1697.2 L310.9,1693.9 L315.0,1689.6 L320.4,1686.3 L325.9,1684.9 L330.0,1687.6 L334.0,1691.7 L337.6,1697.2 L340.9,1704.0 L345.0,1710.8 L348.5,1716.3 L351.2,1716.8 L354.5,1713.6 L357.2,1705.4 L359.9,1691.7 L362.7,1667.2 L365.4,1637.2 L368.1,1604.5 L370.9,1566.3 L373.6,1528.1 L376.3,1495.4 L379.0,1465.4 L381.8,1438.1 L384.5,1413.6 L387.2,1394.5 L389.9,1378.2 L392.7,1364.5 L395.4,1353.6 L398.7,1345.4 L402.2,1336.7 L405.8,1344.1 L409.0,1359.1 L406.8,1350.9 L410.9,1372.7 L414.2,1402.7 L416.9,1435.4 L419.6,1468.1 L422.4,1495.4 L425.1,1511.8 L428.6,1533.6 L432.2,1547.2 L436.0,1558.1 L440.9,1567.7 L445.0,1558.1 L449.1,1544.5 L453.2,1525.4 L457.3,1506.3 L461.4,1487.2 L465.4,1470.9 L469.5,1460.0 L473.1,1455.9 L476.9,1460.0 L480.4,1468.1 L484.0,1481.8 L487.3,1500.9 L490.5,1522.7 L494.1,1547.2 L497.6,1571.8 L500.9,1596.3 L504.2,1620.8 L507.7,1642.7 L510.4,1659.0 L513.2,1672.6 L515.9,1683.6 L518.6,1691.7 L522.2,1695.8 L526.0,1697.2 L530.3,1694.5 L535.0,1689.0 L539.1,1683.6 L543.2,1678.1 L547.2,1672.6 L551.3,1669.9 L555.4,1664.5 L559.5,1659.0 L563.1,1655.7 L566.9,1657.7 L571.2,1661.7 L575.9,1665.8 L580.0,1669.9 L584.1,1675.4 L588.1,1679.5 L592.2,1682.2 L596.3,1684.9 L600.4,1687.6 L604.5,1690.4 L608.6,1690.4 L612.7,1691.7 L616.8,1694.5 L620.9,1694.5 L625.0,1697.2 L629.0,1695.8 L633.1,1697.2 L637.2,1698.6 L641.3,1697.2 L645.4,1699.9 L649.5,1701.3 L653.6,1702.6 L657.7,1704.0 L661.8,1705.4 L665.9,1704.0 L669.9,1702.6 L674.0,1704.8 L678.1,1697.2 L682.2,1695.8 L686.3,1694.5 L690.4,1694.5 L694.5,1695.8 L698.6,1697.2 L702.7,1695.0 L706.8,1695.0 L710.9,1695.8 L714.9,1698.6 L718.3,1698.1 L721.6,1701.8 L725.0,1704.8 L729.1,1705.1 L733.3,1704.8 L736.6,1704.0 L739.9,1706.5 L743.2,1704.5 L746.6,1703.1 L749.9,1702.3 L753.2,1705.1 L757.4,1704.8 L759.9,1704.8 L762.4,1702.3 L764.9,1699.5 L767.4,1702.8 L769.9,1704.0 L773.2,1704.5 L776.5,1705.6 L779.8,1706.5 L783.2,1706.1 L786.5,1706.5 L789.8,1707.8 L793.2,1706.5 L796.5,1706.5 L799.8,1705.6 L803.1,1704.8 L806.5,1703.1 L809.8,1703.1 L813.1,1702.8 L816.4,1703.1 L819.8,1702.8 L823.1,1703.1 L825.6,1704.0 L828.1,1706.5 L831.4,1706.5 L834.7,1708.1 L838.1,1706.5 L840.6,1709.0 L843.1,1711.4 L846.4,1710.6 L849.7,1711.4 L853.0,1714.8 L856.4,1712.3 L859.7,1709.8 L863.0,1711.4 L866.3,1711.4 L869.7,1711.4 L873.0,1711.4 L876.3,1710.6 L879.6,1709.8 L883.0,1709.8 L886.3,1710.6 L889.6,1710.6 L893.0,1710.6 L896.3,1710.6 L899.6,1709.8 L902.9,1709.0 L906.3,1710.6 L909.6,1711.4 L912.9,1709.0 L916.2,1709.0 L919.6,1709.8 L922.9,1710.1 L926.2,1709.8 L929.5,1711.4 L932.9,1712.3 L936.2,1711.4 L939.5,1709.8 L942.9,1711.4 L946.2,1713.9 L949.5,1712.3 L952.8,1713.4 L956.2,1715.6 L959.5,1714.4 L962.8,1713.9 L966.1,1713.1 L969.5,1711.8 L972.8,1710.6 L976.1,1709.8 L979.5,1709.5 L982.8,1709.8 L986.1,1709.8 L989.4,1709.0 L992.8,1708.1 L996.1,1709.0 L999.4,1710.6 L1002.7,1712.3 L1006.1,1713.1 L1009.4,1713.9 L1012.7,1716.4 L1016.0,1716.4 L1019.4,1718.1 L1022.7,1717.3 L1026.0,1716.4 L1029.4,1715.6 L1032.7,1713.9 L1037.7,1714.8" fill="none" stroke="#2372aa" stroke-width="3.5" stroke-linejoin="round" clip-path="url(#clipe)"/>
<path d="M97.6,1721.7 L102.3,1720.4 L106.4,1725.0 L111.8,1723.1 L117.3,1721.2 L122.7,1721.7 L128.2,1723.1 L133.6,1721.7 L139.1,1723.1 L144.5,1721.7 L150.0,1724.5 L155.4,1723.1 L160.4,1720.4 L165.0,1725.0 L170.4,1724.5 L175.9,1723.1 L181.3,1721.7 L186.8,1723.1 L191.4,1725.8 L196.3,1721.7 L201.8,1723.1 L207.3,1723.9 L212.7,1723.1 L218.2,1723.9 L223.6,1725.0 L229.1,1723.9 L234.5,1723.9 L238.6,1721.2 L244.1,1721.7 L248.2,1721.2 L253.6,1721.7 L259.1,1723.1 L264.5,1721.7 L268.6,1720.4 L274.1,1721.2 L278.1,1717.6 L282.2,1711.4 L286.3,1708.1 L290.4,1705.4 L294.5,1702.6 L298.6,1698.6 L302.7,1694.5 L306.8,1690.4 L310.9,1686.3 L315.0,1683.6 L320.4,1680.3 L325.0,1677.6 L328.6,1682.2 L332.7,1684.9 L336.8,1686.3 L340.3,1686.8 L343.6,1688.5 L347.7,1687.6 L350.4,1680.8 L353.1,1667.2 L355.9,1648.1 L358.6,1626.3 L361.3,1601.8 L364.0,1571.8 L366.8,1539.0 L369.5,1509.0 L372.2,1479.0 L374.9,1451.8 L377.7,1424.5 L380.4,1398.6 L383.1,1372.7 L385.9,1350.9 L388.6,1331.8 L391.3,1312.7 L394.0,1296.4 L396.8,1282.7 L399.5,1273.2 L402.2,1267.7 L406.3,1265.0 L403.3,1266.4 L406.8,1265.0 L410.4,1266.4 L413.6,1280.0 L416.9,1299.1 L419.6,1320.9 L422.4,1342.7 L425.1,1364.5 L427.8,1383.6 L430.5,1398.6 L434.1,1413.6 L438.2,1423.1 L442.3,1424.5 L446.4,1420.4 L450.4,1416.3 L454.5,1412.2 L457.8,1404.1 L461.4,1395.9 L465.4,1394.5 L469.5,1398.6 L473.6,1401.3 L476.9,1406.8 L480.4,1419.1 L484.0,1432.7 L487.3,1451.8 L490.5,1473.6 L493.3,1495.4 L496.0,1517.2 L498.7,1536.3 L501.4,1555.4 L504.2,1574.5 L506.9,1590.8 L509.6,1604.5 L512.3,1618.1 L515.9,1630.4 L520.0,1637.2 L524.1,1644.0 L528.2,1652.2 L532.2,1652.2 L536.3,1653.6 L540.4,1654.9 L544.5,1653.6 L548.6,1652.2 L552.7,1654.9 L556.8,1654.9 L560.9,1657.7 L565.0,1660.4 L569.1,1663.1 L573.1,1667.2 L577.2,1671.3 L581.3,1674.0 L585.4,1678.1 L589.5,1680.8 L593.6,1684.1 L597.7,1686.3 L601.8,1688.5 L605.9,1689.6 L610.0,1689.6 L614.1,1688.5 L618.1,1686.8 L622.2,1684.9 L626.3,1683.6 L630.4,1682.2 L634.5,1683.6 L638.6,1684.9 L642.7,1687.6 L646.8,1689.0 L650.9,1691.7 L655.0,1693.1 L659.0,1697.2 L663.1,1698.6 L667.2,1699.4 L671.3,1700.5 L675.4,1702.1 L679.5,1705.4 L683.6,1704.0 L687.7,1702.6 L691.8,1702.1 L695.9,1704.0 L699.9,1706.7 L704.0,1705.4 L708.1,1704.0 L712.2,1702.6 L716.3,1703.2 L716.6,1703.1 L720.0,1704.8 L723.3,1707.3 L726.6,1709.8 L729.9,1710.3 L733.3,1709.8 L736.6,1711.1 L739.9,1711.8 L743.2,1711.4 L746.6,1711.4 L749.9,1711.4 L753.2,1713.1 L756.6,1710.6 L759.9,1707.3 L763.2,1706.5 L766.5,1705.6 L769.9,1706.1 L773.2,1708.1 L776.5,1711.4 L779.8,1713.9 L783.2,1709.8 L786.5,1710.6 L789.8,1715.6 L793.2,1713.1 L796.5,1712.3 L799.8,1711.1 L803.1,1709.8 L806.5,1708.1 L809.8,1705.6 L813.1,1705.1 L816.4,1705.6 L819.8,1706.5 L823.1,1708.5 L826.4,1709.0 L829.7,1707.3 L833.1,1707.3 L836.4,1710.6 L839.7,1713.1 L843.1,1712.3 L846.4,1709.8 L849.7,1710.6 L853.0,1714.8 L856.4,1713.9 L859.7,1713.1 L863.0,1713.1 L866.3,1712.8 L869.7,1711.4 L873.0,1713.1 L876.3,1713.9 L879.6,1713.1 L883.0,1711.4 L886.3,1713.1 L889.6,1714.8 L893.0,1711.4 L896.3,1711.1 L899.6,1711.1 L902.9,1710.6 L906.3,1709.8 L908.8,1707.8 L911.3,1713.1 L914.6,1715.6 L917.9,1714.8 L921.2,1713.9 L924.6,1715.6 L927.9,1715.6 L931.2,1713.9 L934.5,1713.9 L937.9,1713.1 L940.4,1717.3 L942.9,1718.1 L946.2,1718.1 L949.5,1718.9 L952.8,1720.6 L956.2,1719.8 L959.5,1718.1 L962.0,1719.8 L964.5,1717.3 L967.8,1715.6 L971.1,1714.8 L974.5,1713.9 L977.8,1713.1 L981.1,1711.4 L984.4,1709.8 L987.8,1710.6 L991.1,1709.8 L994.4,1709.8 L997.7,1711.4 L1001.1,1713.9 L1004.4,1715.6 L1007.7,1714.8 L1011.1,1718.9 L1014.4,1714.8 L1017.7,1718.1 L1021.0,1717.3 L1024.4,1716.4 L1027.7,1715.6 L1031.0,1716.4 L1037.7,1718.1" fill="none" stroke="#ec8024" stroke-width="3.5" stroke-linejoin="round" clip-path="url(#clipe)"/>
<line x1="97.2" x2="1036.1" y1="1723.3" y2="1723.3" stroke="#000" stroke-width="1.4" stroke-dasharray="3.9 2.7"/>
<rect x="97.2" y="1242.2" width="938.9" height="508.1" fill="none" stroke="#000" stroke-width="1.7"/>
<line x1="97.2" x2="97.2" y1="1750.3" y2="1759.0" stroke="#000" stroke-width="1.7"/>
<text transform="translate(97.2,1789.3) scale(1,1.035)" class="tk" text-anchor="middle">0</text>
<line x1="202.7" x2="202.7" y1="1750.3" y2="1759.0" stroke="#000" stroke-width="1.7"/>
<text transform="translate(202.7,1789.3) scale(1,1.035)" class="tk" text-anchor="middle"><tspan font-family="IPAGothic, 'Liberation Sans', sans-serif" stroke="#000" stroke-width="0.35" dx="0.84" dy="1.38">1</tspan><tspan dx="0.84" dy="-1.38">​</tspan></text>
<line x1="308.2" x2="308.2" y1="1750.3" y2="1759.0" stroke="#000" stroke-width="1.7"/>
<text transform="translate(308.2,1789.3) scale(1,1.035)" class="tk" text-anchor="middle">2</text>
<line x1="413.7" x2="413.7" y1="1750.3" y2="1759.0" stroke="#000" stroke-width="1.7"/>
<text transform="translate(413.7,1789.3) scale(1,1.035)" class="tk" text-anchor="middle">3</text>
<line x1="519.2" x2="519.2" y1="1750.3" y2="1759.0" stroke="#000" stroke-width="1.7"/>
<text transform="translate(519.2,1789.3) scale(1,1.035)" class="tk" text-anchor="middle">4</text>
<line x1="624.7" x2="624.7" y1="1750.3" y2="1759.0" stroke="#000" stroke-width="1.7"/>
<text transform="translate(624.7,1789.3) scale(1,1.035)" class="tk" text-anchor="middle">5</text>
<line x1="730.2" x2="730.2" y1="1750.3" y2="1759.0" stroke="#000" stroke-width="1.7"/>
<text transform="translate(730.2,1789.3) scale(1,1.035)" class="tk" text-anchor="middle">6</text>
<line x1="835.7" x2="835.7" y1="1750.3" y2="1759.0" stroke="#000" stroke-width="1.7"/>
<text transform="translate(835.7,1789.3) scale(1,1.035)" class="tk" text-anchor="middle">7</text>
<line x1="941.2" x2="941.2" y1="1750.3" y2="1759.0" stroke="#000" stroke-width="1.7"/>
<text transform="translate(941.2,1789.3) scale(1,1.035)" class="tk" text-anchor="middle">8</text>
<line x1="88.5" x2="97.2" y1="1723.3" y2="1723.3" stroke="#000" stroke-width="1.7"/>
<text transform="translate(79.9,1733.9) scale(1,1.035)" class="tk" text-anchor="end">0</text>
<line x1="88.5" x2="97.2" y1="1642.8" y2="1642.8" stroke="#000" stroke-width="1.7"/>
<text transform="translate(79.9,1653.4) scale(1,1.035)" class="tk" text-anchor="end">2</text>
<line x1="88.5" x2="97.2" y1="1562.3" y2="1562.3" stroke="#000" stroke-width="1.7"/>
<text transform="translate(79.9,1572.9) scale(1,1.035)" class="tk" text-anchor="end">4</text>
<line x1="88.5" x2="97.2" y1="1481.8" y2="1481.8" stroke="#000" stroke-width="1.7"/>
<text transform="translate(79.9,1492.4) scale(1,1.035)" class="tk" text-anchor="end">6</text>
<line x1="88.5" x2="97.2" y1="1401.3" y2="1401.3" stroke="#000" stroke-width="1.7"/>
<text transform="translate(79.9,1411.9) scale(1,1.035)" class="tk" text-anchor="end">8</text>
<line x1="88.5" x2="97.2" y1="1320.8" y2="1320.8" stroke="#000" stroke-width="1.7"/>
<text transform="translate(79.9,1331.4) scale(1,1.035)" class="tk" text-anchor="end"><tspan font-family="IPAGothic, 'Liberation Sans', sans-serif" stroke="#000" stroke-width="0.35" dx="0.84" dy="1.38">1</tspan><tspan dx="0.84" dy="-1.38">0</tspan></text>
<text x="566.6" y="1833.4" class="al" text-anchor="middle">Time, ps</text>
<text transform="translate(28.1,1665.8) rotate(-90)" class="al" letter-spacing="0.25">Δ<tspan font-style="italic">I/I</tspan>, norm. to 4.5-5.0 ps</text>
<line x1="749.0" x2="801.9" y1="1275.4" y2="1275.4" stroke="#2372aa" stroke-width="3.0"/>
<text x="819.5" y="1282.4" class="lg">Ag 5 <tspan font-style="italic">μ</tspan>m 300 K</text>
<line x1="749.0" x2="801.9" y1="1314.9" y2="1314.9" stroke="#ec8024" stroke-width="3.0"/>
<text x="819.5" y="1321.9" class="lg">Ag <tspan font-family="IPAGothic, 'Liberation Sans', sans-serif" stroke="#000" stroke-width="0.35" dx="0.70" dy="1.00">1</tspan><tspan dx="0.70" dy="-1.00">00 </tspan><tspan font-style="italic">μ</tspan>m 300 K</text>
<text x="11.9" y="1284.2" class="pl">e</text>
<path d="M1154.1,1720.4 L1159.5,1720.4 L1165.0,1719.5 L1170.5,1718.5 L1175.9,1719.5 L1181.4,1721.2 L1186.8,1719.5 L1192.3,1719.0 L1197.7,1720.4 L1203.2,1719.5 L1208.6,1720.4 L1215.4,1717.6 L1220.9,1719.5 L1226.3,1723.1 L1231.8,1720.4 L1237.3,1719.5 L1244.1,1723.1 L1249.5,1719.5 L1255.0,1719.0 L1260.4,1718.5 L1265.9,1719.0 L1271.3,1720.4 L1276.8,1719.5 L1282.2,1716.8 L1287.7,1716.8 L1293.2,1719.0 L1298.6,1718.5 L1304.1,1719.5 L1309.5,1719.5 L1315.0,1720.4 L1320.4,1721.2 L1325.9,1719.5 L1330.5,1716.8 L1335.4,1718.5 L1339.5,1712.2 L1345.0,1709.5 L1350.4,1706.7 L1354.5,1708.1 L1357.8,1698.6 L1362.7,1696.6 L1367.6,1691.7 L1371.4,1690.4 L1375.8,1684.9 L1380.4,1681.4 L1384.0,1684.9 L1387.8,1687.6 L1392.7,1690.4 L1396.8,1691.2 L1399.5,1702.6 L1403.0,1705.9 L1406.3,1709.5 L1409.6,1702.6 L1413.1,1693.1 L1416.7,1675.4 L1419.9,1653.6 L1423.2,1626.3 L1426.8,1590.8 L1430.3,1555.4 L1433.6,1522.7 L1436.9,1495.4 L1440.4,1470.9 L1443.9,1446.3 L1447.2,1424.5 L1451.3,1402.7 L1455.4,1394.5 L1459.5,1385.0 L1463.6,1390.4 L1466.9,1397.2 L1466.8,1397.2 L1470.4,1413.6 L1473.6,1432.7 L1476.4,1451.8 L1479.1,1473.6 L1481.8,1487.2 L1485.1,1500.9 L1488.6,1511.8 L1492.7,1515.9 L1496.8,1517.2 L1500.9,1518.6 L1503.6,1513.1 L1507.7,1509.0 L1511.3,1500.9 L1514.5,1491.3 L1518.6,1485.0 L1523.3,1483.1 L1527.6,1485.0 L1531.4,1491.3 L1535.0,1503.6 L1538.5,1519.9 L1541.8,1536.3 L1545.1,1552.7 L1548.6,1571.8 L1552.2,1590.8 L1555.4,1609.9 L1558.7,1629.0 L1562.3,1642.7 L1565.8,1654.9 L1569.1,1663.1 L1573.2,1665.8 L1577.8,1667.2 L1582.7,1664.5 L1586.8,1660.4 L1590.9,1656.3 L1595.0,1652.2 L1599.1,1648.1 L1602.3,1650.8 L1605.9,1649.5 L1610.0,1653.6 L1614.1,1654.9 L1618.2,1660.4 L1622.2,1664.5 L1626.3,1668.6 L1630.4,1671.3 L1634.5,1674.0 L1638.6,1675.4 L1642.7,1676.7 L1646.8,1675.4 L1650.9,1678.1 L1655.0,1679.5 L1659.1,1676.7 L1663.1,1679.5 L1667.2,1678.1 L1671.3,1680.8 L1675.4,1681.4 L1679.5,1682.2 L1683.6,1683.6 L1687.7,1684.9 L1691.8,1685.7 L1695.9,1686.3 L1700.0,1686.3 L1704.0,1687.6 L1708.1,1687.6 L1712.2,1689.0 L1716.3,1690.4 L1720.4,1691.2 L1724.5,1691.7 L1728.6,1692.3 L1732.7,1693.1 L1736.8,1694.5 L1740.9,1693.9 L1744.9,1693.1 L1749.0,1693.1 L1753.1,1691.7 L1757.2,1690.4 L1761.3,1687.6 L1765.4,1686.3 L1769.5,1684.9 L1773.6,1683.6 L1776.9,1685.7 L1777.9,1688.3 L1781.9,1686.4 L1785.8,1684.8 L1792.1,1684.0 L1796.9,1685.6 L1800.8,1686.4 L1804.0,1688.3 L1807.1,1686.4 L1810.3,1684.8 L1812.7,1691.1 L1815.0,1692.7 L1817.4,1690.3 L1819.8,1694.3 L1822.1,1697.4 L1825.3,1698.2 L1829.3,1698.2 L1833.2,1698.2 L1836.4,1699.0 L1839.5,1701.4 L1842.7,1703.8 L1845.5,1702.2 L1848.2,1699.0 L1850.6,1700.6 L1853.8,1703.0 L1856.9,1704.5 L1860.1,1703.0 L1864.0,1701.9 L1868.0,1702.2 L1871.1,1702.2 L1874.3,1703.8 L1877.5,1702.2 L1880.6,1699.8 L1883.8,1697.1 L1886.9,1698.2 L1890.1,1697.4 L1893.3,1699.0 L1896.4,1699.8 L1898.8,1698.2 L1901.2,1700.6 L1903.1,1704.5 L1905.1,1699.8 L1907.5,1703.8 L1909.9,1706.1 L1913.0,1706.9 L1916.2,1707.7 L1919.3,1708.5 L1922.5,1709.3 L1925.7,1706.9 L1928.8,1706.6 L1932.0,1707.7 L1935.1,1707.7 L1938.3,1707.7 L1941.5,1707.7 L1944.6,1707.7 L1947.0,1706.1 L1950.1,1705.3 L1953.3,1705.3 L1956.5,1706.9 L1959.6,1709.3 L1962.8,1710.1 L1965.9,1710.9 L1969.1,1707.7 L1972.3,1707.7 L1975.4,1708.5 L1978.6,1707.7 L1981.8,1708.5 L1984.9,1708.5 L1988.1,1707.2 L1991.2,1709.3 L1994.4,1710.9 L1997.6,1711.7 L2000.7,1708.5 L2003.1,1707.7 L2005.5,1711.7 L2008.6,1710.9 L2011.8,1710.1 L2014.9,1711.7 L2018.1,1712.4 L2021.3,1711.7 L2024.4,1711.7 L2027.6,1718.0 L2030.7,1714.8 L2033.9,1711.7 L2036.3,1709.3 L2038.6,1711.7 L2041.8,1710.1 L2045.0,1706.9 L2048.1,1706.9 L2051.3,1711.7 L2054.4,1711.7 L2057.6,1710.9 L2060.8,1711.3 L2063.9,1710.9 L2067.1,1709.3 L2070.2,1711.7 L2073.4,1713.2 L2076.6,1711.7 L2079.7,1711.3 L2082.9,1712.4 L2086.0,1714.8 L2092.4,1713.2" fill="none" stroke="#2372aa" stroke-width="3.5" stroke-linejoin="round" clip-path="url(#clipf)"/>
<path d="M1154.1,1721.2 L1159.5,1719.5 L1165.0,1719.5 L1170.5,1720.4 L1174.5,1725.8 L1178.6,1718.5 L1182.7,1719.0 L1187.6,1713.6 L1192.3,1717.6 L1197.7,1716.8 L1203.2,1721.2 L1208.6,1721.2 L1214.1,1720.4 L1219.5,1719.5 L1225.0,1720.4 L1230.4,1719.0 L1235.9,1720.4 L1241.3,1719.5 L1246.8,1720.4 L1252.3,1717.6 L1257.7,1718.5 L1264.5,1716.3 L1270.0,1721.2 L1275.4,1717.6 L1280.9,1719.0 L1286.3,1716.3 L1291.8,1720.4 L1297.2,1716.3 L1302.7,1717.6 L1308.2,1719.0 L1313.6,1719.0 L1319.1,1716.8 L1324.5,1713.6 L1328.6,1708.1 L1332.7,1706.7 L1338.1,1701.3 L1343.6,1695.8 L1349.1,1690.4 L1353.1,1686.3 L1357.2,1682.2 L1360.5,1680.8 L1364.1,1675.4 L1368.1,1680.8 L1372.2,1683.6 L1376.3,1679.5 L1381.2,1679.5 L1385.9,1680.8 L1390.0,1683.6 L1394.0,1687.6 L1398.1,1678.1 L1402.2,1671.3 L1405.0,1653.6 L1407.7,1631.7 L1410.4,1607.2 L1413.1,1579.9 L1415.9,1552.7 L1418.6,1522.7 L1421.3,1490.0 L1424.0,1457.2 L1427.6,1424.5 L1430.9,1397.2 L1434.1,1372.7 L1437.7,1348.2 L1441.2,1326.3 L1444.5,1304.5 L1448.6,1288.2 L1452.7,1271.8 L1456.8,1265.0 L1460.3,1266.4 L1463.6,1274.5 L1466.9,1288.2 L1466.8,1285.4 L1469.5,1304.5 L1472.3,1323.6 L1475.0,1342.7 L1477.7,1359.1 L1480.5,1372.7 L1483.2,1383.6 L1485.9,1391.8 L1490.0,1395.9 L1494.1,1402.7 L1498.2,1391.8 L1502.3,1387.7 L1506.4,1385.0 L1510.4,1383.6 L1514.5,1383.6 L1518.6,1380.9 L1522.7,1391.8 L1526.8,1401.3 L1530.9,1410.9 L1534.2,1427.2 L1537.7,1446.3 L1541.3,1465.4 L1544.5,1484.5 L1547.8,1503.6 L1551.3,1522.7 L1554.9,1539.0 L1558.2,1552.7 L1561.4,1567.7 L1565.0,1577.2 L1568.5,1586.8 L1572.3,1593.6 L1575.9,1597.7 L1580.0,1600.4 L1584.1,1604.5 L1588.2,1608.6 L1592.2,1611.3 L1596.3,1615.4 L1600.4,1620.8 L1604.5,1623.6 L1608.6,1626.3 L1611.3,1637.2 L1615.4,1642.7 L1619.5,1648.1 L1623.6,1653.6 L1627.7,1660.4 L1631.2,1667.2 L1634.5,1671.3 L1638.6,1674.0 L1642.7,1675.4 L1646.8,1674.0 L1650.9,1676.7 L1655.0,1679.5 L1659.1,1680.8 L1663.1,1682.2 L1667.2,1683.0 L1671.3,1679.5 L1675.4,1680.8 L1679.5,1683.6 L1683.6,1684.9 L1687.7,1683.6 L1691.8,1683.6 L1695.9,1682.2 L1700.0,1684.9 L1704.0,1687.6 L1708.1,1689.0 L1712.2,1691.7 L1716.3,1693.1 L1720.4,1693.1 L1724.5,1693.1 L1728.6,1694.5 L1732.7,1695.0 L1736.8,1694.5 L1740.9,1693.9 L1744.9,1694.5 L1749.0,1693.9 L1753.1,1694.5 L1757.2,1694.5 L1761.3,1695.8 L1765.4,1698.6 L1769.5,1700.5 L1773.6,1701.3 L1777.7,1699.9 L1773.2,1701.4 L1776.3,1702.2 L1779.5,1702.2 L1782.6,1701.9 L1785.5,1698.2 L1788.2,1702.2 L1790.5,1705.3 L1792.9,1706.9 L1796.1,1704.5 L1799.2,1703.8 L1802.4,1702.2 L1805.6,1701.4 L1808.7,1701.4 L1811.9,1700.9 L1815.0,1701.4 L1817.4,1706.1 L1820.6,1700.6 L1823.7,1701.4 L1826.9,1702.2 L1830.0,1703.0 L1833.2,1702.2 L1835.6,1699.8 L1838.0,1705.3 L1841.1,1708.5 L1844.3,1708.5 L1847.4,1707.7 L1849.8,1706.1 L1852.2,1702.2 L1855.3,1704.5 L1857.7,1706.9 L1860.1,1710.1 L1862.4,1704.5 L1864.8,1703.8 L1868.0,1705.3 L1871.1,1707.7 L1874.3,1710.9 L1876.7,1708.5 L1879.0,1705.3 L1882.2,1702.2 L1885.4,1704.5 L1888.5,1707.7 L1891.7,1710.1 L1894.8,1710.9 L1898.0,1710.9 L1901.2,1710.4 L1904.3,1710.1 L1907.5,1710.1 L1909.9,1708.5 L1913.0,1710.1 L1916.2,1711.7 L1919.3,1712.4 L1922.5,1711.7 L1925.7,1710.9 L1928.8,1707.7 L1932.0,1710.1 L1935.1,1709.3 L1938.3,1710.9 L1941.5,1712.4 L1944.6,1711.7 L1947.8,1710.9 L1950.9,1710.9 L1954.1,1711.7 L1957.3,1708.5 L1960.4,1707.7 L1963.6,1708.5 L1965.9,1707.7 L1968.3,1706.1 L1970.7,1711.7 L1973.9,1714.0 L1977.0,1714.0 L1980.2,1713.2 L1983.3,1713.5 L1986.5,1712.9 L1989.7,1714.0 L1992.8,1711.7 L1996.0,1710.1 L1999.1,1711.7 L2002.3,1714.8 L2005.5,1716.4 L2008.6,1715.6 L2011.8,1716.4 L2014.9,1715.6 L2018.1,1716.4 L2021.3,1714.8 L2024.4,1716.7 L2027.6,1714.8 L2030.7,1715.6 L2033.9,1714.8 L2037.1,1713.2 L2040.2,1711.7 L2042.6,1708.5 L2045.8,1711.7 L2048.9,1712.4 L2052.1,1711.7 L2055.2,1713.2 L2058.4,1714.0 L2061.6,1715.6 L2064.7,1717.2 L2067.1,1710.9 L2070.2,1712.4 L2073.4,1715.6 L2076.6,1719.6 L2079.7,1719.6 L2082.9,1718.0 L2086.0,1715.6 L2092.4,1713.2" fill="none" stroke="#ec8024" stroke-width="3.5" stroke-linejoin="round" clip-path="url(#clipf)"/>
<line x1="1153.3" x2="2091.2" y1="1719.7" y2="1719.7" stroke="#000" stroke-width="1.4" stroke-dasharray="3.9 2.7"/>
<rect x="1153.3" y="1242.6" width="937.9" height="508.2" fill="none" stroke="#000" stroke-width="1.7"/>
<line x1="1153.3" x2="1153.3" y1="1750.8" y2="1759.5" stroke="#000" stroke-width="1.7"/>
<text transform="translate(1153.3,1789.8) scale(1,1.035)" class="tk" text-anchor="middle">0</text>
<line x1="1258.7" x2="1258.7" y1="1750.8" y2="1759.5" stroke="#000" stroke-width="1.7"/>
<text transform="translate(1258.7,1789.8) scale(1,1.035)" class="tk" text-anchor="middle"><tspan font-family="IPAGothic, 'Liberation Sans', sans-serif" stroke="#000" stroke-width="0.35" dx="0.84" dy="1.38">1</tspan><tspan dx="0.84" dy="-1.38">​</tspan></text>
<line x1="1364.1" x2="1364.1" y1="1750.8" y2="1759.5" stroke="#000" stroke-width="1.7"/>
<text transform="translate(1364.1,1789.8) scale(1,1.035)" class="tk" text-anchor="middle">2</text>
<line x1="1469.4" x2="1469.4" y1="1750.8" y2="1759.5" stroke="#000" stroke-width="1.7"/>
<text transform="translate(1469.4,1789.8) scale(1,1.035)" class="tk" text-anchor="middle">3</text>
<line x1="1574.8" x2="1574.8" y1="1750.8" y2="1759.5" stroke="#000" stroke-width="1.7"/>
<text transform="translate(1574.8,1789.8) scale(1,1.035)" class="tk" text-anchor="middle">4</text>
<line x1="1680.2" x2="1680.2" y1="1750.8" y2="1759.5" stroke="#000" stroke-width="1.7"/>
<text transform="translate(1680.2,1789.8) scale(1,1.035)" class="tk" text-anchor="middle">5</text>
<line x1="1785.6" x2="1785.6" y1="1750.8" y2="1759.5" stroke="#000" stroke-width="1.7"/>
<text transform="translate(1785.6,1789.8) scale(1,1.035)" class="tk" text-anchor="middle">6</text>
<line x1="1891.0" x2="1891.0" y1="1750.8" y2="1759.5" stroke="#000" stroke-width="1.7"/>
<text transform="translate(1891.0,1789.8) scale(1,1.035)" class="tk" text-anchor="middle">7</text>
<line x1="1996.4" x2="1996.4" y1="1750.8" y2="1759.5" stroke="#000" stroke-width="1.7"/>
<text transform="translate(1996.4,1789.8) scale(1,1.035)" class="tk" text-anchor="middle">8</text>
<line x1="1144.6" x2="1153.3" y1="1719.7" y2="1719.7" stroke="#000" stroke-width="1.7"/>
<text transform="translate(1136.0,1730.3) scale(1,1.035)" class="tk" text-anchor="end">0</text>
<line x1="1144.6" x2="1153.3" y1="1634.8" y2="1634.8" stroke="#000" stroke-width="1.7"/>
<text transform="translate(1136.0,1645.4) scale(1,1.035)" class="tk" text-anchor="end">2</text>
<line x1="1144.6" x2="1153.3" y1="1549.9" y2="1549.9" stroke="#000" stroke-width="1.7"/>
<text transform="translate(1136.0,1560.5) scale(1,1.035)" class="tk" text-anchor="end">4</text>
<line x1="1144.6" x2="1153.3" y1="1465.0" y2="1465.0" stroke="#000" stroke-width="1.7"/>
<text transform="translate(1136.0,1475.6) scale(1,1.035)" class="tk" text-anchor="end">6</text>
<line x1="1144.6" x2="1153.3" y1="1380.1" y2="1380.1" stroke="#000" stroke-width="1.7"/>
<text transform="translate(1136.0,1390.7) scale(1,1.035)" class="tk" text-anchor="end">8</text>
<line x1="1144.6" x2="1153.3" y1="1295.2" y2="1295.2" stroke="#000" stroke-width="1.7"/>
<text transform="translate(1136.0,1305.8) scale(1,1.035)" class="tk" text-anchor="end"><tspan font-family="IPAGothic, 'Liberation Sans', sans-serif" stroke="#000" stroke-width="0.35" dx="0.84" dy="1.38">1</tspan><tspan dx="0.84" dy="-1.38">0</tspan></text>
<text x="1622.2" y="1833.4" class="al" text-anchor="middle">Time, ps</text>
<text transform="translate(1088.9,1666.0) rotate(-90)" class="al" letter-spacing="0.25">Δ<tspan font-style="italic">I/I</tspan>, norm. to 4.5-5.0 ps</text>
<line x1="1804.1" x2="1857.0" y1="1275.8" y2="1275.8" stroke="#2372aa" stroke-width="1.8"/>
<text x="1874.6" y="1282.8" class="lg">Ag 5 <tspan font-style="italic">μ</tspan>m 620 K</text>
<line x1="1804.1" x2="1857.0" y1="1315.3" y2="1315.3" stroke="#ec8024" stroke-width="1.8"/>
<text x="1874.6" y="1322.3" class="lg">Ag <tspan font-family="IPAGothic, 'Liberation Sans', sans-serif" stroke="#000" stroke-width="0.35" dx="0.70" dy="1.00">1</tspan><tspan dx="0.70" dy="-1.00">00 </tspan><tspan font-style="italic">μ</tspan>m 620 K</text>
<text x="1075.5" y="1284.3" class="pl">f</text>
</svg>
</body></html>
